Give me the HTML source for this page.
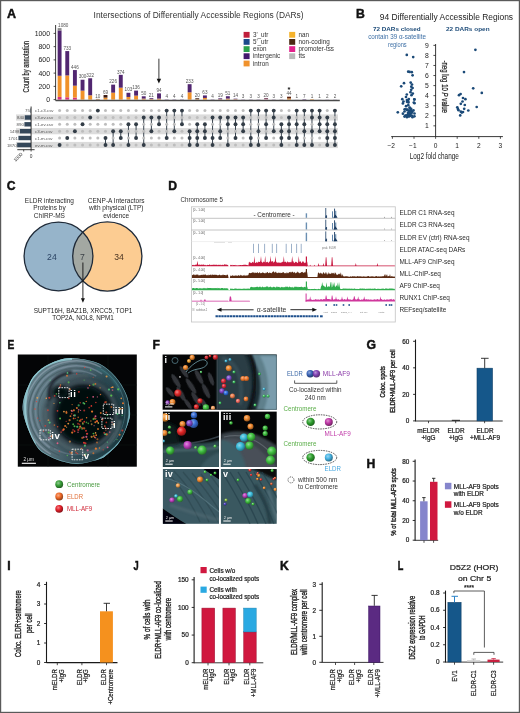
<!DOCTYPE html>
<html><head><meta charset="utf-8"><style>
html,body{margin:0;padding:0;background:#fff;}
body{width:520px;height:713px;overflow:hidden;}
svg{display:block;will-change:transform;}
</style></head><body>
<svg width="520" height="713" viewBox="0 0 520 713" font-family="Liberation Sans, sans-serif">
<defs><radialGradient id="g3aa03a" cx="0.38" cy="0.35" r="0.7"><stop offset="0" stop-color="#92ca92"/><stop offset="0.45" stop-color="#3aa03a"/><stop offset="1" stop-color="#1f581f"/></radialGradient><radialGradient id="gf06a28" cx="0.38" cy="0.35" r="0.7"><stop offset="0" stop-color="#f6ad88"/><stop offset="0.45" stop-color="#f06a28"/><stop offset="1" stop-color="#843a16"/></radialGradient><radialGradient id="ge4202a" cx="0.38" cy="0.35" r="0.7"><stop offset="0" stop-color="#f08489"/><stop offset="0.45" stop-color="#e4202a"/><stop offset="1" stop-color="#7d1117"/></radialGradient><radialGradient id="gf08a30" cx="0.38" cy="0.35" r="0.7"><stop offset="0" stop-color="#f6be8d"/><stop offset="0.45" stop-color="#f08a30"/><stop offset="1" stop-color="#844b1a"/></radialGradient><radialGradient id="gf0a030" cx="0.38" cy="0.35" r="0.7"><stop offset="0" stop-color="#f6ca8d"/><stop offset="0.45" stop-color="#f0a030"/><stop offset="1" stop-color="#84581a"/></radialGradient><radialGradient id="gd82830" cx="0.38" cy="0.35" r="0.7"><stop offset="0" stop-color="#e9888d"/><stop offset="0.45" stop-color="#d82830"/><stop offset="1" stop-color="#76161a"/></radialGradient><radialGradient id="ge02828" cx="0.38" cy="0.35" r="0.7"><stop offset="0" stop-color="#ed8888"/><stop offset="0.45" stop-color="#e02828"/><stop offset="1" stop-color="#7b1616"/></radialGradient><radialGradient id="g9040c0" cx="0.38" cy="0.35" r="0.7"><stop offset="0" stop-color="#c195dc"/><stop offset="0.45" stop-color="#9040c0"/><stop offset="1" stop-color="#4f2369"/></radialGradient><radialGradient id="g40c040" cx="0.38" cy="0.35" r="0.7"><stop offset="0" stop-color="#95dc95"/><stop offset="0.45" stop-color="#40c040"/><stop offset="1" stop-color="#236923"/></radialGradient><radialGradient id="gf0a060" cx="0.38" cy="0.35" r="0.7"><stop offset="0" stop-color="#f6caa7"/><stop offset="0.45" stop-color="#f0a060"/><stop offset="1" stop-color="#845834"/></radialGradient><radialGradient id="g50c060" cx="0.38" cy="0.35" r="0.7"><stop offset="0" stop-color="#9edca7"/><stop offset="0.45" stop-color="#50c060"/><stop offset="1" stop-color="#2c6934"/></radialGradient><radialGradient id="gb0b0b0" cx="0.38" cy="0.35" r="0.7"><stop offset="0" stop-color="#d3d3d3"/><stop offset="0.45" stop-color="#b0b0b0"/><stop offset="1" stop-color="#606060"/></radialGradient><radialGradient id="gf07a30" cx="0.38" cy="0.35" r="0.7"><stop offset="0" stop-color="#f6b58d"/><stop offset="0.45" stop-color="#f07a30"/><stop offset="1" stop-color="#84431a"/></radialGradient><radialGradient id="g8050d0" cx="0.38" cy="0.35" r="0.7"><stop offset="0" stop-color="#b99ee5"/><stop offset="0.45" stop-color="#8050d0"/><stop offset="1" stop-color="#462c72"/></radialGradient><radialGradient id="ge02838" cx="0.38" cy="0.35" r="0.7"><stop offset="0" stop-color="#ed8891"/><stop offset="0.45" stop-color="#e02838"/><stop offset="1" stop-color="#7b161e"/></radialGradient><radialGradient id="g8040c0" cx="0.38" cy="0.35" r="0.7"><stop offset="0" stop-color="#b995dc"/><stop offset="0.45" stop-color="#8040c0"/><stop offset="1" stop-color="#462369"/></radialGradient><radialGradient id="g3070e0" cx="0.38" cy="0.35" r="0.7"><stop offset="0" stop-color="#8db0ed"/><stop offset="0.45" stop-color="#3070e0"/><stop offset="1" stop-color="#1a3d7b"/></radialGradient><radialGradient id="gf08050" cx="0.38" cy="0.35" r="0.7"><stop offset="0" stop-color="#f6b99e"/><stop offset="0.45" stop-color="#f08050"/><stop offset="1" stop-color="#84462c"/></radialGradient><radialGradient id="gf06a60" cx="0.38" cy="0.35" r="0.7"><stop offset="0" stop-color="#f6ada7"/><stop offset="0.45" stop-color="#f06a60"/><stop offset="1" stop-color="#843a34"/></radialGradient><radialGradient id="g40c060" cx="0.38" cy="0.35" r="0.7"><stop offset="0" stop-color="#95dca7"/><stop offset="0.45" stop-color="#40c060"/><stop offset="1" stop-color="#236934"/></radialGradient><radialGradient id="g40b0d0" cx="0.38" cy="0.35" r="0.7"><stop offset="0" stop-color="#95d3e5"/><stop offset="0.45" stop-color="#40b0d0"/><stop offset="1" stop-color="#236072"/></radialGradient><radialGradient id="gd02828" cx="0.38" cy="0.35" r="0.7"><stop offset="0" stop-color="#e58888"/><stop offset="0.45" stop-color="#d02828"/><stop offset="1" stop-color="#721616"/></radialGradient><radialGradient id="gf0902a" cx="0.38" cy="0.35" r="0.7"><stop offset="0" stop-color="#f6c189"/><stop offset="0.45" stop-color="#f0902a"/><stop offset="1" stop-color="#844f17"/></radialGradient><radialGradient id="ge02424" cx="0.38" cy="0.35" r="0.7"><stop offset="0" stop-color="#ed8686"/><stop offset="0.45" stop-color="#e02424"/><stop offset="1" stop-color="#7b1313"/></radialGradient><radialGradient id="g3a70d8" cx="0.38" cy="0.35" r="0.7"><stop offset="0" stop-color="#92b0e9"/><stop offset="0.45" stop-color="#3a70d8"/><stop offset="1" stop-color="#1f3d76"/></radialGradient><radialGradient id="g8048c8" cx="0.38" cy="0.35" r="0.7"><stop offset="0" stop-color="#b99ae0"/><stop offset="0.45" stop-color="#8048c8"/><stop offset="1" stop-color="#46276e"/></radialGradient><radialGradient id="g50c050" cx="0.38" cy="0.35" r="0.7"><stop offset="0" stop-color="#9edc9e"/><stop offset="0.45" stop-color="#50c050"/><stop offset="1" stop-color="#2c692c"/></radialGradient><radialGradient id="gc040c0" cx="0.38" cy="0.35" r="0.7"><stop offset="0" stop-color="#dc95dc"/><stop offset="0.45" stop-color="#c040c0"/><stop offset="1" stop-color="#692369"/></radialGradient><radialGradient id="g38b8d8" cx="0.38" cy="0.35" r="0.7"><stop offset="0" stop-color="#91d7e9"/><stop offset="0.45" stop-color="#38b8d8"/><stop offset="1" stop-color="#1e6576"/></radialGradient><radialGradient id="gf0a050" cx="0.38" cy="0.35" r="0.7"><stop offset="0" stop-color="#f6ca9e"/><stop offset="0.45" stop-color="#f0a050"/><stop offset="1" stop-color="#84582c"/></radialGradient><radialGradient id="g40c8e0" cx="0.38" cy="0.35" r="0.7"><stop offset="0" stop-color="#95e0ed"/><stop offset="0.45" stop-color="#40c8e0"/><stop offset="1" stop-color="#236e7b"/></radialGradient><radialGradient id="ge03030" cx="0.38" cy="0.35" r="0.7"><stop offset="0" stop-color="#ed8d8d"/><stop offset="0.45" stop-color="#e03030"/><stop offset="1" stop-color="#7b1a1a"/></radialGradient><radialGradient id="ge05a30" cx="0.38" cy="0.35" r="0.7"><stop offset="0" stop-color="#eda48d"/><stop offset="0.45" stop-color="#e05a30"/><stop offset="1" stop-color="#7b311a"/></radialGradient><radialGradient id="g40c0e0" cx="0.38" cy="0.35" r="0.7"><stop offset="0" stop-color="#95dced"/><stop offset="0.45" stop-color="#40c0e0"/><stop offset="1" stop-color="#23697b"/></radialGradient><radialGradient id="g90c040" cx="0.38" cy="0.35" r="0.7"><stop offset="0" stop-color="#c1dc95"/><stop offset="0.45" stop-color="#90c040"/><stop offset="1" stop-color="#4f6923"/></radialGradient><radialGradient id="g5040c0" cx="0.38" cy="0.35" r="0.7"><stop offset="0" stop-color="#9e95dc"/><stop offset="0.45" stop-color="#5040c0"/><stop offset="1" stop-color="#2c2369"/></radialGradient><radialGradient id="g3a64b8" cx="0.38" cy="0.35" r="0.7"><stop offset="0" stop-color="#92a9d7"/><stop offset="0.45" stop-color="#3a64b8"/><stop offset="1" stop-color="#1f3765"/></radialGradient><radialGradient id="g7a34b0" cx="0.38" cy="0.35" r="0.7"><stop offset="0" stop-color="#b58fd3"/><stop offset="0.45" stop-color="#7a34b0"/><stop offset="1" stop-color="#431c60"/></radialGradient><radialGradient id="g2fa02f" cx="0.38" cy="0.35" r="0.7"><stop offset="0" stop-color="#8cca8c"/><stop offset="0.45" stop-color="#2fa02f"/><stop offset="1" stop-color="#195819"/></radialGradient><radialGradient id="gc03aa8" cx="0.38" cy="0.35" r="0.7"><stop offset="0" stop-color="#dc92cf"/><stop offset="0.45" stop-color="#c03aa8"/><stop offset="1" stop-color="#691f5c"/></radialGradient><radialGradient id="g48b4e4" cx="0.38" cy="0.35" r="0.7"><stop offset="0" stop-color="#9ad5f0"/><stop offset="0.45" stop-color="#48b4e4"/><stop offset="1" stop-color="#27637d"/></radialGradient></defs>
<rect x="0" y="0" width="520" height="713" fill="#fff"/>
<text x="6.90" y="17.80" font-size="12.5" fill="#111" stroke="#111" stroke-width="0.45" font-weight="bold">A</text>
<text x="93.60" y="17.90" font-size="8.3" fill="#333" textLength="210.00" lengthAdjust="spacingAndGlyphs">Intersections of Differentially Accessible Regions (DARs)</text>
<line x1="55.60" y1="25.00" x2="55.60" y2="100.50" stroke="#222" stroke-width="0.9"/>
<line x1="53.60" y1="99.60" x2="55.60" y2="99.60" stroke="#222" stroke-width="0.8"/>
<text x="50.00" y="102.00" font-size="6.9" fill="#222" text-anchor="end">0</text>
<line x1="53.60" y1="86.36" x2="55.60" y2="86.36" stroke="#222" stroke-width="0.8"/>
<text x="50.00" y="88.76" font-size="6.9" fill="#222" text-anchor="end">200</text>
<line x1="53.60" y1="73.12" x2="55.60" y2="73.12" stroke="#222" stroke-width="0.8"/>
<text x="50.00" y="75.52" font-size="6.9" fill="#222" text-anchor="end">400</text>
<line x1="53.60" y1="59.88" x2="55.60" y2="59.88" stroke="#222" stroke-width="0.8"/>
<text x="50.00" y="62.28" font-size="6.9" fill="#222" text-anchor="end">600</text>
<line x1="53.60" y1="46.64" x2="55.60" y2="46.64" stroke="#222" stroke-width="0.8"/>
<text x="50.00" y="49.04" font-size="6.9" fill="#222" text-anchor="end">800</text>
<line x1="53.60" y1="33.40" x2="55.60" y2="33.40" stroke="#222" stroke-width="0.8"/>
<text x="50.00" y="35.80" font-size="6.9" fill="#222" text-anchor="end">1000</text>
<text x="29.00" y="66.70" font-size="8.6" fill="#222" stroke="#222" stroke-width="0.2" text-anchor="middle" textLength="51.50" lengthAdjust="spacingAndGlyphs" transform="rotate(-90 29.00 66.70)">Count by annotation</text>
<rect x="57.65" y="96.95" width="3.90" height="2.65" fill="#d8307a"/>
<rect x="57.65" y="75.77" width="3.90" height="21.18" fill="#f0922a"/>
<rect x="57.65" y="30.42" width="3.90" height="45.35" fill="#512670"/>
<rect x="57.65" y="28.10" width="3.90" height="2.32" fill="#8c8c8c"/>
<text x="63.20" y="26.80" font-size="4.6" fill="#555" text-anchor="middle">1080</text>
<rect x="65.30" y="97.28" width="3.90" height="2.32" fill="#d8307a"/>
<rect x="65.30" y="75.44" width="3.90" height="21.85" fill="#f0922a"/>
<rect x="65.30" y="51.08" width="3.90" height="24.36" fill="#512670"/>
<text x="67.25" y="49.78" font-size="4.6" fill="#555" text-anchor="middle">733</text>
<rect x="72.95" y="97.61" width="3.90" height="1.99" fill="#d8307a"/>
<rect x="72.95" y="85.70" width="3.90" height="11.92" fill="#f0922a"/>
<rect x="72.95" y="70.07" width="3.90" height="15.62" fill="#512670"/>
<text x="74.90" y="68.77" font-size="4.6" fill="#555" text-anchor="middle">446</text>
<rect x="80.59" y="90.66" width="3.90" height="8.94" fill="#f0922a"/>
<rect x="80.59" y="79.74" width="3.90" height="10.92" fill="#512670"/>
<text x="82.54" y="78.44" font-size="4.6" fill="#555" text-anchor="middle">300</text>
<rect x="88.24" y="95.30" width="3.90" height="4.30" fill="#f0922a"/>
<rect x="88.24" y="78.28" width="3.90" height="17.01" fill="#512670"/>
<text x="90.19" y="76.98" font-size="4.6" fill="#555" text-anchor="middle">322</text>
<rect x="95.89" y="99.20" width="3.90" height="0.40" fill="#f0922a"/>
<rect x="95.89" y="98.94" width="3.90" height="0.26" fill="#3a1a12"/>
<text x="97.84" y="97.64" font-size="4.6" fill="#555" text-anchor="middle">10</text>
<rect x="103.54" y="97.61" width="3.90" height="1.99" fill="#f0922a"/>
<rect x="103.54" y="95.03" width="3.90" height="2.58" fill="#3a1a12"/>
<text x="105.49" y="93.73" font-size="4.6" fill="#555" text-anchor="middle">69</text>
<rect x="111.19" y="92.65" width="3.90" height="6.95" fill="#f0922a"/>
<rect x="111.19" y="84.64" width="3.90" height="8.01" fill="#512670"/>
<text x="113.14" y="83.34" font-size="4.6" fill="#555" text-anchor="middle">226</text>
<rect x="118.83" y="87.68" width="3.90" height="11.92" fill="#f0922a"/>
<rect x="118.83" y="74.84" width="3.90" height="12.84" fill="#512670"/>
<text x="120.78" y="73.54" font-size="4.6" fill="#555" text-anchor="middle">374</text>
<rect x="126.48" y="96.95" width="3.90" height="2.65" fill="#f0922a"/>
<rect x="126.48" y="92.78" width="3.90" height="4.17" fill="#512670"/>
<text x="128.43" y="91.48" font-size="4.6" fill="#555" text-anchor="middle">103</text>
<rect x="134.13" y="95.63" width="3.90" height="3.97" fill="#f0922a"/>
<rect x="134.13" y="90.60" width="3.90" height="5.03" fill="#512670"/>
<text x="136.08" y="89.30" font-size="4.6" fill="#555" text-anchor="middle">136</text>
<rect x="141.78" y="98.61" width="3.90" height="0.99" fill="#f0922a"/>
<rect x="141.78" y="96.29" width="3.90" height="2.32" fill="#512670"/>
<text x="143.73" y="94.99" font-size="4.6" fill="#555" text-anchor="middle">50</text>
<rect x="149.43" y="99.07" width="3.90" height="0.53" fill="#f0922a"/>
<rect x="149.43" y="98.21" width="3.90" height="0.86" fill="#512670"/>
<text x="151.38" y="96.91" font-size="4.6" fill="#555" text-anchor="middle">21</text>
<rect x="157.07" y="98.61" width="3.90" height="0.99" fill="#f0922a"/>
<rect x="157.07" y="93.38" width="3.90" height="5.23" fill="#512670"/>
<text x="159.02" y="92.08" font-size="4.6" fill="#555" text-anchor="middle">94</text>
<rect x="164.72" y="99.34" width="3.90" height="0.26" fill="#512670"/>
<text x="166.67" y="98.04" font-size="4.6" fill="#555" text-anchor="middle">4</text>
<rect x="172.37" y="99.34" width="3.90" height="0.26" fill="#512670"/>
<text x="174.32" y="98.04" font-size="4.6" fill="#555" text-anchor="middle">4</text>
<rect x="180.02" y="99.34" width="3.90" height="0.26" fill="#512670"/>
<text x="181.97" y="98.04" font-size="4.6" fill="#555" text-anchor="middle">4</text>
<rect x="187.67" y="92.32" width="3.90" height="7.28" fill="#f0922a"/>
<rect x="187.67" y="84.18" width="3.90" height="8.14" fill="#512670"/>
<text x="189.62" y="82.88" font-size="4.6" fill="#555" text-anchor="middle">233</text>
<rect x="195.31" y="99.20" width="3.90" height="0.40" fill="#f0922a"/>
<rect x="195.31" y="98.28" width="3.90" height="0.93" fill="#3a1a12"/>
<text x="197.26" y="96.98" font-size="4.6" fill="#555" text-anchor="middle">20</text>
<rect x="202.96" y="97.94" width="3.90" height="1.65" fill="#f0922a"/>
<rect x="202.96" y="95.43" width="3.90" height="2.52" fill="#512670"/>
<text x="204.91" y="94.13" font-size="4.6" fill="#555" text-anchor="middle">63</text>
<rect x="210.61" y="99.34" width="3.90" height="0.26" fill="#512670"/>
<text x="212.56" y="98.04" font-size="4.6" fill="#555" text-anchor="middle">4</text>
<rect x="218.26" y="99.27" width="3.90" height="0.33" fill="#f0922a"/>
<rect x="218.26" y="98.34" width="3.90" height="0.93" fill="#512670"/>
<text x="220.21" y="97.04" font-size="4.6" fill="#555" text-anchor="middle">19</text>
<rect x="225.91" y="98.61" width="3.90" height="0.99" fill="#f0922a"/>
<rect x="225.91" y="96.22" width="3.90" height="2.38" fill="#512670"/>
<text x="227.86" y="94.92" font-size="4.6" fill="#555" text-anchor="middle">51</text>
<rect x="233.55" y="99.20" width="3.90" height="0.40" fill="#f0922a"/>
<rect x="233.55" y="98.67" width="3.90" height="0.53" fill="#512670"/>
<text x="235.50" y="97.37" font-size="4.6" fill="#555" text-anchor="middle">14</text>
<rect x="241.20" y="99.40" width="3.90" height="0.20" fill="#512670"/>
<text x="243.15" y="98.10" font-size="4.6" fill="#555" text-anchor="middle">3</text>
<rect x="248.85" y="99.40" width="3.90" height="0.20" fill="#512670"/>
<text x="250.80" y="98.10" font-size="4.6" fill="#555" text-anchor="middle">3</text>
<rect x="256.50" y="99.40" width="3.90" height="0.20" fill="#512670"/>
<text x="258.45" y="98.10" font-size="4.6" fill="#555" text-anchor="middle">3</text>
<rect x="264.15" y="99.14" width="3.90" height="0.46" fill="#f0b0c0"/>
<rect x="264.15" y="98.28" width="3.90" height="0.86" fill="#5a1a3a"/>
<text x="266.10" y="96.98" font-size="4.6" fill="#555" text-anchor="middle">20</text>
<rect x="271.79" y="99.40" width="3.90" height="0.20" fill="#512670"/>
<text x="273.74" y="98.10" font-size="4.6" fill="#555" text-anchor="middle">3</text>
<rect x="279.44" y="99.40" width="3.90" height="0.20" fill="#512670"/>
<text x="281.39" y="98.10" font-size="4.6" fill="#555" text-anchor="middle">3</text>
<rect x="287.09" y="98.41" width="3.90" height="1.19" fill="#f0922a"/>
<rect x="287.09" y="96.69" width="3.90" height="1.72" fill="#5a2010"/>
<text x="289.04" y="95.39" font-size="4.6" fill="#555" text-anchor="middle">44</text>
<rect x="294.74" y="99.53" width="3.90" height="0.07" fill="#512670"/>
<text x="296.69" y="98.23" font-size="4.6" fill="#555" text-anchor="middle">1</text>
<rect x="302.39" y="99.14" width="3.90" height="0.46" fill="#512670"/>
<text x="304.34" y="97.84" font-size="4.6" fill="#555" text-anchor="middle">7</text>
<rect x="310.03" y="99.14" width="3.90" height="0.46" fill="#f0922a"/>
<text x="311.98" y="98.23" font-size="4.6" fill="#555" text-anchor="middle">1</text>
<rect x="317.68" y="99.53" width="3.90" height="0.07" fill="#512670"/>
<text x="319.63" y="98.23" font-size="4.6" fill="#555" text-anchor="middle">1</text>
<rect x="325.33" y="99.47" width="3.90" height="0.13" fill="#512670"/>
<text x="327.28" y="98.17" font-size="4.6" fill="#555" text-anchor="middle">2</text>
<rect x="332.98" y="99.47" width="3.90" height="0.13" fill="#512670"/>
<text x="334.93" y="98.17" font-size="4.6" fill="#555" text-anchor="middle">2</text>
<text x="289.04" y="91.69" font-size="7.5" fill="#111" text-anchor="middle" font-weight="bold">*</text>
<line x1="55.60" y1="100.50" x2="339.80" y2="100.50" stroke="#4a4a4a" stroke-width="1.6"/>
<line x1="158.90" y1="58.70" x2="158.90" y2="79.50" stroke="#222" stroke-width="0.9"/>
<polygon points="156.7,78.8 161.1,78.8 158.9,83.6" fill="#111"/>
<rect x="243.60" y="31.90" width="6.00" height="5.80" fill="#c01f3c"/>
<text x="252.90" y="37.00" font-size="6.3" fill="#333">3'_utr</text>
<rect x="243.60" y="39.00" width="6.00" height="5.80" fill="#1b4a8c"/>
<text x="252.90" y="44.10" font-size="6.3" fill="#333">5'_utr</text>
<rect x="243.60" y="46.20" width="6.00" height="5.80" fill="#2ba24c"/>
<text x="252.90" y="51.30" font-size="6.3" fill="#333">exon</text>
<rect x="243.60" y="53.30" width="6.00" height="5.80" fill="#42196c"/>
<text x="252.90" y="58.40" font-size="6.3" fill="#333">intergenic</text>
<rect x="243.60" y="60.60" width="6.00" height="5.80" fill="#f0922c"/>
<text x="252.90" y="65.70" font-size="6.3" fill="#333">intron</text>
<rect x="289.20" y="31.90" width="6.00" height="5.80" fill="#f6b32c"/>
<text x="298.60" y="37.00" font-size="6.3" fill="#333">nan</text>
<rect x="289.20" y="39.00" width="6.00" height="5.80" fill="#4a2812"/>
<text x="298.60" y="44.10" font-size="6.3" fill="#333">non-coding</text>
<rect x="289.20" y="46.20" width="6.00" height="5.80" fill="#e2228c"/>
<text x="298.60" y="51.30" font-size="6.3" fill="#333">promoter-tss</text>
<rect x="289.20" y="53.30" width="6.00" height="5.80" fill="#b9b9b9"/>
<text x="298.60" y="58.40" font-size="6.3" fill="#333">tts</text>
<rect x="16.00" y="114.40" width="322.00" height="6.20" fill="#dcdcdc"/>
<rect x="16.00" y="128.10" width="322.00" height="6.20" fill="#dcdcdc"/>
<rect x="16.00" y="141.90" width="322.00" height="6.20" fill="#dcdcdc"/>
<rect x="30.45" y="108.40" width="0.56" height="4.40" fill="#34475a"/>
<text x="29.95" y="112.20" font-size="4.4" fill="#555" text-anchor="end">75</text>
<text x="35.00" y="112.20" font-size="4.4" fill="#555">c1-c3.csv</text>
<rect x="24.78" y="115.30" width="6.22" height="4.40" fill="#34475a"/>
<text x="24.28" y="119.10" font-size="4.4" fill="#555" text-anchor="end">840</text>
<text x="35.00" y="119.10" font-size="4.4" fill="#555">c3-ev.csv</text>
<rect x="24.41" y="122.10" width="6.59" height="4.40" fill="#34475a"/>
<text x="23.91" y="125.90" font-size="4.4" fill="#555" text-anchor="end">890</text>
<text x="35.00" y="125.90" font-size="4.4" fill="#555">c1-ev.csv</text>
<rect x="19.91" y="129.00" width="11.09" height="4.40" fill="#34475a"/>
<text x="19.41" y="132.80" font-size="4.4" fill="#555" text-anchor="end">1498</text>
<text x="35.00" y="132.80" font-size="4.4" fill="#555">c3-m.csv</text>
<rect x="18.41" y="135.80" width="12.59" height="4.40" fill="#34475a"/>
<text x="17.91" y="139.60" font-size="4.4" fill="#555" text-anchor="end">1701</text>
<text x="35.00" y="139.60" font-size="4.4" fill="#555">c1-m.csv</text>
<rect x="17.16" y="142.80" width="13.84" height="4.40" fill="#34475a"/>
<text x="16.66" y="146.60" font-size="4.4" fill="#555" text-anchor="end">1870</text>
<text x="35.00" y="146.60" font-size="4.4" fill="#555">ev-m.csv</text>
<line x1="31.10" y1="106.50" x2="31.10" y2="149.70" stroke="#222" stroke-width="0.9"/>
<line x1="17.30" y1="149.70" x2="34.60" y2="149.70" stroke="#222" stroke-width="0.9"/>
<line x1="23.70" y1="149.70" x2="23.70" y2="151.50" stroke="#222" stroke-width="0.8"/>
<line x1="31.10" y1="149.70" x2="31.10" y2="151.50" stroke="#222" stroke-width="0.8"/>
<text x="23.00" y="154.50" font-size="4.8" fill="#333" text-anchor="end" transform="rotate(-45 23.00 154.50)">1000</text>
<text x="31.10" y="157.50" font-size="4.8" fill="#333" text-anchor="middle">0</text>
<circle cx="59.60" cy="110.60" r="1.50" fill="#bdbdbd"/>
<circle cx="59.60" cy="117.50" r="1.50" fill="#bdbdbd"/>
<circle cx="59.60" cy="124.30" r="1.50" fill="#bdbdbd"/>
<circle cx="59.60" cy="131.20" r="1.50" fill="#bdbdbd"/>
<circle cx="59.60" cy="138.00" r="1.50" fill="#bdbdbd"/>
<circle cx="59.60" cy="145.00" r="1.95" fill="#333d47"/>
<circle cx="67.25" cy="110.60" r="1.50" fill="#bdbdbd"/>
<circle cx="67.25" cy="117.50" r="1.50" fill="#bdbdbd"/>
<circle cx="67.25" cy="124.30" r="1.50" fill="#bdbdbd"/>
<circle cx="67.25" cy="131.20" r="1.50" fill="#bdbdbd"/>
<circle cx="67.25" cy="138.00" r="1.95" fill="#333d47"/>
<circle cx="67.25" cy="145.00" r="1.50" fill="#bdbdbd"/>
<circle cx="74.90" cy="110.60" r="1.50" fill="#bdbdbd"/>
<circle cx="74.90" cy="117.50" r="1.50" fill="#bdbdbd"/>
<circle cx="74.90" cy="124.30" r="1.50" fill="#bdbdbd"/>
<circle cx="74.90" cy="131.20" r="1.95" fill="#333d47"/>
<circle cx="74.90" cy="138.00" r="1.50" fill="#bdbdbd"/>
<circle cx="74.90" cy="145.00" r="1.50" fill="#bdbdbd"/>
<circle cx="82.54" cy="110.60" r="1.50" fill="#bdbdbd"/>
<circle cx="82.54" cy="117.50" r="1.50" fill="#bdbdbd"/>
<circle cx="82.54" cy="124.30" r="1.95" fill="#333d47"/>
<circle cx="82.54" cy="131.20" r="1.50" fill="#bdbdbd"/>
<circle cx="82.54" cy="138.00" r="1.50" fill="#bdbdbd"/>
<circle cx="82.54" cy="145.00" r="1.50" fill="#bdbdbd"/>
<circle cx="90.19" cy="110.60" r="1.50" fill="#bdbdbd"/>
<circle cx="90.19" cy="117.50" r="1.95" fill="#333d47"/>
<circle cx="90.19" cy="124.30" r="1.50" fill="#bdbdbd"/>
<circle cx="90.19" cy="131.20" r="1.50" fill="#bdbdbd"/>
<circle cx="90.19" cy="138.00" r="1.50" fill="#bdbdbd"/>
<circle cx="90.19" cy="145.00" r="1.50" fill="#bdbdbd"/>
<circle cx="97.84" cy="110.60" r="1.95" fill="#333d47"/>
<circle cx="97.84" cy="117.50" r="1.50" fill="#bdbdbd"/>
<circle cx="97.84" cy="124.30" r="1.50" fill="#bdbdbd"/>
<circle cx="97.84" cy="131.20" r="1.50" fill="#bdbdbd"/>
<circle cx="97.84" cy="138.00" r="1.50" fill="#bdbdbd"/>
<circle cx="97.84" cy="145.00" r="1.50" fill="#bdbdbd"/>
<line x1="105.49" y1="138.00" x2="105.49" y2="145.00" stroke="#3a4550" stroke-width="1.0"/>
<circle cx="105.49" cy="110.60" r="1.50" fill="#bdbdbd"/>
<circle cx="105.49" cy="117.50" r="1.50" fill="#bdbdbd"/>
<circle cx="105.49" cy="124.30" r="1.50" fill="#bdbdbd"/>
<circle cx="105.49" cy="131.20" r="1.50" fill="#bdbdbd"/>
<circle cx="105.49" cy="138.00" r="1.95" fill="#333d47"/>
<circle cx="105.49" cy="145.00" r="1.95" fill="#333d47"/>
<line x1="113.14" y1="131.20" x2="113.14" y2="145.00" stroke="#3a4550" stroke-width="1.0"/>
<circle cx="113.14" cy="110.60" r="1.50" fill="#bdbdbd"/>
<circle cx="113.14" cy="117.50" r="1.50" fill="#bdbdbd"/>
<circle cx="113.14" cy="124.30" r="1.50" fill="#bdbdbd"/>
<circle cx="113.14" cy="131.20" r="1.95" fill="#333d47"/>
<circle cx="113.14" cy="138.00" r="1.50" fill="#bdbdbd"/>
<circle cx="113.14" cy="145.00" r="1.95" fill="#333d47"/>
<line x1="120.78" y1="131.20" x2="120.78" y2="138.00" stroke="#3a4550" stroke-width="1.0"/>
<circle cx="120.78" cy="110.60" r="1.50" fill="#bdbdbd"/>
<circle cx="120.78" cy="117.50" r="1.50" fill="#bdbdbd"/>
<circle cx="120.78" cy="124.30" r="1.50" fill="#bdbdbd"/>
<circle cx="120.78" cy="131.20" r="1.95" fill="#333d47"/>
<circle cx="120.78" cy="138.00" r="1.95" fill="#333d47"/>
<circle cx="120.78" cy="145.00" r="1.50" fill="#bdbdbd"/>
<line x1="128.43" y1="124.30" x2="128.43" y2="145.00" stroke="#3a4550" stroke-width="1.0"/>
<circle cx="128.43" cy="110.60" r="1.50" fill="#bdbdbd"/>
<circle cx="128.43" cy="117.50" r="1.50" fill="#bdbdbd"/>
<circle cx="128.43" cy="124.30" r="1.95" fill="#333d47"/>
<circle cx="128.43" cy="131.20" r="1.50" fill="#bdbdbd"/>
<circle cx="128.43" cy="138.00" r="1.50" fill="#bdbdbd"/>
<circle cx="128.43" cy="145.00" r="1.95" fill="#333d47"/>
<line x1="136.08" y1="124.30" x2="136.08" y2="138.00" stroke="#3a4550" stroke-width="1.0"/>
<circle cx="136.08" cy="110.60" r="1.50" fill="#bdbdbd"/>
<circle cx="136.08" cy="117.50" r="1.50" fill="#bdbdbd"/>
<circle cx="136.08" cy="124.30" r="1.95" fill="#333d47"/>
<circle cx="136.08" cy="131.20" r="1.50" fill="#bdbdbd"/>
<circle cx="136.08" cy="138.00" r="1.95" fill="#333d47"/>
<circle cx="136.08" cy="145.00" r="1.50" fill="#bdbdbd"/>
<line x1="143.73" y1="117.50" x2="143.73" y2="145.00" stroke="#3a4550" stroke-width="1.0"/>
<circle cx="143.73" cy="110.60" r="1.50" fill="#bdbdbd"/>
<circle cx="143.73" cy="117.50" r="1.95" fill="#333d47"/>
<circle cx="143.73" cy="124.30" r="1.50" fill="#bdbdbd"/>
<circle cx="143.73" cy="131.20" r="1.50" fill="#bdbdbd"/>
<circle cx="143.73" cy="138.00" r="1.50" fill="#bdbdbd"/>
<circle cx="143.73" cy="145.00" r="1.95" fill="#333d47"/>
<line x1="151.38" y1="117.50" x2="151.38" y2="131.20" stroke="#3a4550" stroke-width="1.0"/>
<circle cx="151.38" cy="110.60" r="1.50" fill="#bdbdbd"/>
<circle cx="151.38" cy="117.50" r="1.95" fill="#333d47"/>
<circle cx="151.38" cy="124.30" r="1.50" fill="#bdbdbd"/>
<circle cx="151.38" cy="131.20" r="1.95" fill="#333d47"/>
<circle cx="151.38" cy="138.00" r="1.50" fill="#bdbdbd"/>
<circle cx="151.38" cy="145.00" r="1.50" fill="#bdbdbd"/>
<line x1="159.02" y1="117.50" x2="159.02" y2="124.30" stroke="#3a4550" stroke-width="1.0"/>
<circle cx="159.02" cy="110.60" r="1.50" fill="#bdbdbd"/>
<circle cx="159.02" cy="117.50" r="1.95" fill="#333d47"/>
<circle cx="159.02" cy="124.30" r="1.95" fill="#333d47"/>
<circle cx="159.02" cy="131.20" r="1.50" fill="#bdbdbd"/>
<circle cx="159.02" cy="138.00" r="1.50" fill="#bdbdbd"/>
<circle cx="159.02" cy="145.00" r="1.50" fill="#bdbdbd"/>
<line x1="166.67" y1="110.60" x2="166.67" y2="138.00" stroke="#3a4550" stroke-width="1.0"/>
<circle cx="166.67" cy="110.60" r="1.95" fill="#333d47"/>
<circle cx="166.67" cy="117.50" r="1.50" fill="#bdbdbd"/>
<circle cx="166.67" cy="124.30" r="1.50" fill="#bdbdbd"/>
<circle cx="166.67" cy="131.20" r="1.50" fill="#bdbdbd"/>
<circle cx="166.67" cy="138.00" r="1.95" fill="#333d47"/>
<circle cx="166.67" cy="145.00" r="1.50" fill="#bdbdbd"/>
<line x1="174.32" y1="110.60" x2="174.32" y2="131.20" stroke="#3a4550" stroke-width="1.0"/>
<circle cx="174.32" cy="110.60" r="1.95" fill="#333d47"/>
<circle cx="174.32" cy="117.50" r="1.50" fill="#bdbdbd"/>
<circle cx="174.32" cy="124.30" r="1.50" fill="#bdbdbd"/>
<circle cx="174.32" cy="131.20" r="1.95" fill="#333d47"/>
<circle cx="174.32" cy="138.00" r="1.50" fill="#bdbdbd"/>
<circle cx="174.32" cy="145.00" r="1.50" fill="#bdbdbd"/>
<line x1="181.97" y1="110.60" x2="181.97" y2="124.30" stroke="#3a4550" stroke-width="1.0"/>
<circle cx="181.97" cy="110.60" r="1.95" fill="#333d47"/>
<circle cx="181.97" cy="117.50" r="1.50" fill="#bdbdbd"/>
<circle cx="181.97" cy="124.30" r="1.95" fill="#333d47"/>
<circle cx="181.97" cy="131.20" r="1.50" fill="#bdbdbd"/>
<circle cx="181.97" cy="138.00" r="1.50" fill="#bdbdbd"/>
<circle cx="181.97" cy="145.00" r="1.50" fill="#bdbdbd"/>
<line x1="189.62" y1="131.20" x2="189.62" y2="145.00" stroke="#3a4550" stroke-width="1.0"/>
<circle cx="189.62" cy="110.60" r="1.50" fill="#bdbdbd"/>
<circle cx="189.62" cy="117.50" r="1.50" fill="#bdbdbd"/>
<circle cx="189.62" cy="124.30" r="1.50" fill="#bdbdbd"/>
<circle cx="189.62" cy="131.20" r="1.95" fill="#333d47"/>
<circle cx="189.62" cy="138.00" r="1.95" fill="#333d47"/>
<circle cx="189.62" cy="145.00" r="1.95" fill="#333d47"/>
<line x1="197.26" y1="124.30" x2="197.26" y2="145.00" stroke="#3a4550" stroke-width="1.0"/>
<circle cx="197.26" cy="110.60" r="1.50" fill="#bdbdbd"/>
<circle cx="197.26" cy="117.50" r="1.50" fill="#bdbdbd"/>
<circle cx="197.26" cy="124.30" r="1.95" fill="#333d47"/>
<circle cx="197.26" cy="131.20" r="1.95" fill="#333d47"/>
<circle cx="197.26" cy="138.00" r="1.95" fill="#333d47"/>
<circle cx="197.26" cy="145.00" r="1.95" fill="#333d47"/>
<line x1="204.91" y1="124.30" x2="204.91" y2="138.00" stroke="#3a4550" stroke-width="1.0"/>
<circle cx="204.91" cy="110.60" r="1.50" fill="#bdbdbd"/>
<circle cx="204.91" cy="117.50" r="1.50" fill="#bdbdbd"/>
<circle cx="204.91" cy="124.30" r="1.95" fill="#333d47"/>
<circle cx="204.91" cy="131.20" r="1.95" fill="#333d47"/>
<circle cx="204.91" cy="138.00" r="1.95" fill="#333d47"/>
<circle cx="204.91" cy="145.00" r="1.50" fill="#bdbdbd"/>
<line x1="212.56" y1="117.50" x2="212.56" y2="145.00" stroke="#3a4550" stroke-width="1.0"/>
<circle cx="212.56" cy="110.60" r="1.50" fill="#bdbdbd"/>
<circle cx="212.56" cy="117.50" r="1.95" fill="#333d47"/>
<circle cx="212.56" cy="124.30" r="1.50" fill="#bdbdbd"/>
<circle cx="212.56" cy="131.20" r="1.50" fill="#bdbdbd"/>
<circle cx="212.56" cy="138.00" r="1.95" fill="#333d47"/>
<circle cx="212.56" cy="145.00" r="1.95" fill="#333d47"/>
<line x1="220.21" y1="117.50" x2="220.21" y2="138.00" stroke="#3a4550" stroke-width="1.0"/>
<circle cx="220.21" cy="110.60" r="1.50" fill="#bdbdbd"/>
<circle cx="220.21" cy="117.50" r="1.95" fill="#333d47"/>
<circle cx="220.21" cy="124.30" r="1.50" fill="#bdbdbd"/>
<circle cx="220.21" cy="131.20" r="1.95" fill="#333d47"/>
<circle cx="220.21" cy="138.00" r="1.95" fill="#333d47"/>
<circle cx="220.21" cy="145.00" r="1.50" fill="#bdbdbd"/>
<line x1="227.86" y1="117.50" x2="227.86" y2="145.00" stroke="#3a4550" stroke-width="1.0"/>
<circle cx="227.86" cy="110.60" r="1.50" fill="#bdbdbd"/>
<circle cx="227.86" cy="117.50" r="1.95" fill="#333d47"/>
<circle cx="227.86" cy="124.30" r="1.95" fill="#333d47"/>
<circle cx="227.86" cy="131.20" r="1.50" fill="#bdbdbd"/>
<circle cx="227.86" cy="138.00" r="1.50" fill="#bdbdbd"/>
<circle cx="227.86" cy="145.00" r="1.95" fill="#333d47"/>
<line x1="235.50" y1="117.50" x2="235.50" y2="138.00" stroke="#3a4550" stroke-width="1.0"/>
<circle cx="235.50" cy="110.60" r="1.50" fill="#bdbdbd"/>
<circle cx="235.50" cy="117.50" r="1.95" fill="#333d47"/>
<circle cx="235.50" cy="124.30" r="1.95" fill="#333d47"/>
<circle cx="235.50" cy="131.20" r="1.50" fill="#bdbdbd"/>
<circle cx="235.50" cy="138.00" r="1.95" fill="#333d47"/>
<circle cx="235.50" cy="145.00" r="1.50" fill="#bdbdbd"/>
<line x1="243.15" y1="117.50" x2="243.15" y2="131.20" stroke="#3a4550" stroke-width="1.0"/>
<circle cx="243.15" cy="110.60" r="1.50" fill="#bdbdbd"/>
<circle cx="243.15" cy="117.50" r="1.95" fill="#333d47"/>
<circle cx="243.15" cy="124.30" r="1.95" fill="#333d47"/>
<circle cx="243.15" cy="131.20" r="1.95" fill="#333d47"/>
<circle cx="243.15" cy="138.00" r="1.50" fill="#bdbdbd"/>
<circle cx="243.15" cy="145.00" r="1.50" fill="#bdbdbd"/>
<line x1="250.80" y1="110.60" x2="250.80" y2="145.00" stroke="#3a4550" stroke-width="1.0"/>
<circle cx="250.80" cy="110.60" r="1.95" fill="#333d47"/>
<circle cx="250.80" cy="117.50" r="1.50" fill="#bdbdbd"/>
<circle cx="250.80" cy="124.30" r="1.50" fill="#bdbdbd"/>
<circle cx="250.80" cy="131.20" r="1.50" fill="#bdbdbd"/>
<circle cx="250.80" cy="138.00" r="1.95" fill="#333d47"/>
<circle cx="250.80" cy="145.00" r="1.95" fill="#333d47"/>
<line x1="258.45" y1="110.60" x2="258.45" y2="145.00" stroke="#3a4550" stroke-width="1.0"/>
<circle cx="258.45" cy="110.60" r="1.95" fill="#333d47"/>
<circle cx="258.45" cy="117.50" r="1.50" fill="#bdbdbd"/>
<circle cx="258.45" cy="124.30" r="1.50" fill="#bdbdbd"/>
<circle cx="258.45" cy="131.20" r="1.95" fill="#333d47"/>
<circle cx="258.45" cy="138.00" r="1.50" fill="#bdbdbd"/>
<circle cx="258.45" cy="145.00" r="1.95" fill="#333d47"/>
<line x1="266.10" y1="110.60" x2="266.10" y2="138.00" stroke="#3a4550" stroke-width="1.0"/>
<circle cx="266.10" cy="110.60" r="1.95" fill="#333d47"/>
<circle cx="266.10" cy="117.50" r="1.50" fill="#bdbdbd"/>
<circle cx="266.10" cy="124.30" r="1.95" fill="#333d47"/>
<circle cx="266.10" cy="131.20" r="1.50" fill="#bdbdbd"/>
<circle cx="266.10" cy="138.00" r="1.95" fill="#333d47"/>
<circle cx="266.10" cy="145.00" r="1.50" fill="#bdbdbd"/>
<line x1="273.74" y1="110.60" x2="273.74" y2="131.20" stroke="#3a4550" stroke-width="1.0"/>
<circle cx="273.74" cy="110.60" r="1.95" fill="#333d47"/>
<circle cx="273.74" cy="117.50" r="1.95" fill="#333d47"/>
<circle cx="273.74" cy="124.30" r="1.50" fill="#bdbdbd"/>
<circle cx="273.74" cy="131.20" r="1.95" fill="#333d47"/>
<circle cx="273.74" cy="138.00" r="1.50" fill="#bdbdbd"/>
<circle cx="273.74" cy="145.00" r="1.50" fill="#bdbdbd"/>
<line x1="281.39" y1="124.30" x2="281.39" y2="145.00" stroke="#3a4550" stroke-width="1.0"/>
<circle cx="281.39" cy="110.60" r="1.50" fill="#bdbdbd"/>
<circle cx="281.39" cy="117.50" r="1.50" fill="#bdbdbd"/>
<circle cx="281.39" cy="124.30" r="1.95" fill="#333d47"/>
<circle cx="281.39" cy="131.20" r="1.95" fill="#333d47"/>
<circle cx="281.39" cy="138.00" r="1.95" fill="#333d47"/>
<circle cx="281.39" cy="145.00" r="1.95" fill="#333d47"/>
<line x1="289.04" y1="117.50" x2="289.04" y2="138.00" stroke="#3a4550" stroke-width="1.0"/>
<circle cx="289.04" cy="110.60" r="1.50" fill="#bdbdbd"/>
<circle cx="289.04" cy="117.50" r="1.95" fill="#333d47"/>
<circle cx="289.04" cy="124.30" r="1.95" fill="#333d47"/>
<circle cx="289.04" cy="131.20" r="1.95" fill="#333d47"/>
<circle cx="289.04" cy="138.00" r="1.95" fill="#333d47"/>
<circle cx="289.04" cy="145.00" r="1.50" fill="#bdbdbd"/>
<line x1="296.69" y1="110.60" x2="296.69" y2="145.00" stroke="#3a4550" stroke-width="1.0"/>
<circle cx="296.69" cy="110.60" r="1.95" fill="#333d47"/>
<circle cx="296.69" cy="117.50" r="1.50" fill="#bdbdbd"/>
<circle cx="296.69" cy="124.30" r="1.95" fill="#333d47"/>
<circle cx="296.69" cy="131.20" r="1.50" fill="#bdbdbd"/>
<circle cx="296.69" cy="138.00" r="1.95" fill="#333d47"/>
<circle cx="296.69" cy="145.00" r="1.95" fill="#333d47"/>
<line x1="304.34" y1="110.60" x2="304.34" y2="145.00" stroke="#3a4550" stroke-width="1.0"/>
<circle cx="304.34" cy="110.60" r="1.95" fill="#333d47"/>
<circle cx="304.34" cy="117.50" r="1.50" fill="#bdbdbd"/>
<circle cx="304.34" cy="124.30" r="1.95" fill="#333d47"/>
<circle cx="304.34" cy="131.20" r="1.95" fill="#333d47"/>
<circle cx="304.34" cy="138.00" r="1.50" fill="#bdbdbd"/>
<circle cx="304.34" cy="145.00" r="1.95" fill="#333d47"/>
<line x1="311.98" y1="110.60" x2="311.98" y2="145.00" stroke="#3a4550" stroke-width="1.0"/>
<circle cx="311.98" cy="110.60" r="1.95" fill="#333d47"/>
<circle cx="311.98" cy="117.50" r="1.95" fill="#333d47"/>
<circle cx="311.98" cy="124.30" r="1.50" fill="#bdbdbd"/>
<circle cx="311.98" cy="131.20" r="1.95" fill="#333d47"/>
<circle cx="311.98" cy="138.00" r="1.50" fill="#bdbdbd"/>
<circle cx="311.98" cy="145.00" r="1.95" fill="#333d47"/>
<line x1="319.63" y1="110.60" x2="319.63" y2="131.20" stroke="#3a4550" stroke-width="1.0"/>
<circle cx="319.63" cy="110.60" r="1.95" fill="#333d47"/>
<circle cx="319.63" cy="117.50" r="1.95" fill="#333d47"/>
<circle cx="319.63" cy="124.30" r="1.95" fill="#333d47"/>
<circle cx="319.63" cy="131.20" r="1.95" fill="#333d47"/>
<circle cx="319.63" cy="138.00" r="1.50" fill="#bdbdbd"/>
<circle cx="319.63" cy="145.00" r="1.50" fill="#bdbdbd"/>
<line x1="327.28" y1="117.50" x2="327.28" y2="145.00" stroke="#3a4550" stroke-width="1.0"/>
<circle cx="327.28" cy="110.60" r="1.50" fill="#bdbdbd"/>
<circle cx="327.28" cy="117.50" r="1.95" fill="#333d47"/>
<circle cx="327.28" cy="124.30" r="1.95" fill="#333d47"/>
<circle cx="327.28" cy="131.20" r="1.95" fill="#333d47"/>
<circle cx="327.28" cy="138.00" r="1.95" fill="#333d47"/>
<circle cx="327.28" cy="145.00" r="1.95" fill="#333d47"/>
<line x1="334.93" y1="110.60" x2="334.93" y2="145.00" stroke="#3a4550" stroke-width="1.0"/>
<circle cx="334.93" cy="110.60" r="1.95" fill="#333d47"/>
<circle cx="334.93" cy="117.50" r="1.50" fill="#bdbdbd"/>
<circle cx="334.93" cy="124.30" r="1.95" fill="#333d47"/>
<circle cx="334.93" cy="131.20" r="1.95" fill="#333d47"/>
<circle cx="334.93" cy="138.00" r="1.95" fill="#333d47"/>
<circle cx="334.93" cy="145.00" r="1.95" fill="#333d47"/>
<text x="356.00" y="17.90" font-size="12.2" fill="#111" stroke="#111" stroke-width="0.45" font-weight="bold">B</text>
<text x="379.80" y="19.60" font-size="8.4" fill="#222" textLength="133.30" lengthAdjust="spacingAndGlyphs">94 Differentially Accessible Regions</text>
<text x="372.90" y="30.70" font-size="6.2" fill="#1f4d7a" font-weight="bold" textLength="47.80" lengthAdjust="spacingAndGlyphs">72 DARs closed</text>
<text x="368.20" y="39.30" font-size="6.6" fill="#3e70a6" textLength="57.80" lengthAdjust="spacingAndGlyphs">contain 39 α-satellite</text>
<text x="388.00" y="47.00" font-size="6.6" fill="#3e70a6" textLength="18.70" lengthAdjust="spacingAndGlyphs">regions</text>
<text x="446.00" y="30.70" font-size="6.2" fill="#1f4d7a" font-weight="bold" textLength="43.60" lengthAdjust="spacingAndGlyphs">22 DARs open</text>
<line x1="435.60" y1="44.00" x2="435.60" y2="136.60" stroke="#222" stroke-width="0.9"/>
<line x1="391.20" y1="136.60" x2="502.90" y2="136.60" stroke="#222" stroke-width="0.9"/>
<line x1="433.40" y1="125.84" x2="435.60" y2="125.84" stroke="#222" stroke-width="0.8"/>
<text x="427.00" y="128.24" font-size="6.8" fill="#222" text-anchor="middle">1</text>
<line x1="433.40" y1="115.78" x2="435.60" y2="115.78" stroke="#222" stroke-width="0.8"/>
<text x="427.00" y="118.18" font-size="6.8" fill="#222" text-anchor="middle">2</text>
<line x1="433.40" y1="105.72" x2="435.60" y2="105.72" stroke="#222" stroke-width="0.8"/>
<text x="427.00" y="108.12" font-size="6.8" fill="#222" text-anchor="middle">3</text>
<line x1="433.40" y1="95.66" x2="435.60" y2="95.66" stroke="#222" stroke-width="0.8"/>
<text x="427.00" y="98.06" font-size="6.8" fill="#222" text-anchor="middle">4</text>
<line x1="433.40" y1="85.60" x2="435.60" y2="85.60" stroke="#222" stroke-width="0.8"/>
<text x="427.00" y="88.00" font-size="6.8" fill="#222" text-anchor="middle">5</text>
<line x1="433.40" y1="75.54" x2="435.60" y2="75.54" stroke="#222" stroke-width="0.8"/>
<text x="427.00" y="77.94" font-size="6.8" fill="#222" text-anchor="middle">6</text>
<line x1="433.40" y1="65.48" x2="435.60" y2="65.48" stroke="#222" stroke-width="0.8"/>
<text x="427.00" y="67.88" font-size="6.8" fill="#222" text-anchor="middle">7</text>
<line x1="433.40" y1="55.42" x2="435.60" y2="55.42" stroke="#222" stroke-width="0.8"/>
<text x="427.00" y="57.82" font-size="6.8" fill="#222" text-anchor="middle">8</text>
<line x1="433.40" y1="45.36" x2="435.60" y2="45.36" stroke="#222" stroke-width="0.8"/>
<text x="427.00" y="47.76" font-size="6.8" fill="#222" text-anchor="middle">9</text>
<line x1="392.40" y1="136.60" x2="392.40" y2="138.80" stroke="#222" stroke-width="0.8"/>
<text x="391.20" y="148.30" font-size="6.6" fill="#222" text-anchor="middle">−2</text>
<line x1="414.00" y1="136.60" x2="414.00" y2="138.80" stroke="#222" stroke-width="0.8"/>
<text x="412.80" y="148.30" font-size="6.6" fill="#222" text-anchor="middle">−1</text>
<line x1="435.60" y1="136.60" x2="435.60" y2="138.80" stroke="#222" stroke-width="0.8"/>
<text x="435.60" y="148.30" font-size="6.6" fill="#222" text-anchor="middle">0</text>
<line x1="457.20" y1="136.60" x2="457.20" y2="138.80" stroke="#222" stroke-width="0.8"/>
<text x="457.20" y="148.30" font-size="6.6" fill="#222" text-anchor="middle">1</text>
<line x1="478.80" y1="136.60" x2="478.80" y2="138.80" stroke="#222" stroke-width="0.8"/>
<text x="478.80" y="148.30" font-size="6.6" fill="#222" text-anchor="middle">2</text>
<line x1="500.40" y1="136.60" x2="500.40" y2="138.80" stroke="#222" stroke-width="0.8"/>
<text x="500.40" y="148.30" font-size="6.6" fill="#222" text-anchor="middle">3</text>
<text x="434.30" y="159.40" font-size="8.6" fill="#222" text-anchor="middle" textLength="49.20" lengthAdjust="spacingAndGlyphs">Log2 fold change</text>
<text x="441.90" y="86.70" font-size="8.2" fill="#222" stroke="#222" stroke-width="0.25" text-anchor="middle" textLength="52.50" lengthAdjust="spacingAndGlyphs" transform="rotate(90 441.90 86.70)">-neg log 10 <tspan font-style="italic">P</tspan> value</text>
<circle cx="406.80" cy="54.90" r="1.35" fill="#1b4a78"/>
<circle cx="413.20" cy="57.10" r="1.35" fill="#1b4a78"/>
<circle cx="408.20" cy="71.70" r="1.35" fill="#1b4a78"/>
<circle cx="409.60" cy="71.90" r="1.35" fill="#1b4a78"/>
<circle cx="411.80" cy="72.20" r="1.35" fill="#1b4a78"/>
<circle cx="412.60" cy="75.30" r="1.35" fill="#1b4a78"/>
<circle cx="404.00" cy="83.20" r="1.35" fill="#1b4a78"/>
<circle cx="401.20" cy="86.30" r="1.35" fill="#1b4a78"/>
<circle cx="410.70" cy="82.60" r="1.35" fill="#1b4a78"/>
<circle cx="412.00" cy="84.50" r="1.35" fill="#1b4a78"/>
<circle cx="411.30" cy="86.70" r="1.35" fill="#1b4a78"/>
<circle cx="412.60" cy="88.00" r="1.35" fill="#1b4a78"/>
<circle cx="411.20" cy="89.80" r="1.35" fill="#1b4a78"/>
<circle cx="410.50" cy="92.20" r="1.35" fill="#1b4a78"/>
<circle cx="412.80" cy="93.60" r="1.35" fill="#1b4a78"/>
<circle cx="411.50" cy="95.20" r="1.35" fill="#1b4a78"/>
<circle cx="406.80" cy="94.50" r="1.35" fill="#1b4a78"/>
<circle cx="406.00" cy="97.00" r="1.35" fill="#1b4a78"/>
<circle cx="408.80" cy="99.00" r="1.35" fill="#1b4a78"/>
<circle cx="402.30" cy="99.20" r="1.35" fill="#1b4a78"/>
<circle cx="403.50" cy="101.50" r="1.35" fill="#1b4a78"/>
<circle cx="402.90" cy="103.40" r="1.35" fill="#1b4a78"/>
<circle cx="397.80" cy="112.30" r="1.35" fill="#1b4a78"/>
<circle cx="402.90" cy="113.70" r="1.35" fill="#1b4a78"/>
<circle cx="409.75" cy="108.12" r="1.35" fill="#1b4a78"/>
<circle cx="407.08" cy="110.06" r="1.35" fill="#1b4a78"/>
<circle cx="408.83" cy="115.54" r="1.35" fill="#1b4a78"/>
<circle cx="414.44" cy="116.32" r="1.35" fill="#1b4a78"/>
<circle cx="409.39" cy="112.03" r="1.35" fill="#1b4a78"/>
<circle cx="412.43" cy="117.27" r="1.35" fill="#1b4a78"/>
<circle cx="411.03" cy="110.20" r="1.35" fill="#1b4a78"/>
<circle cx="408.55" cy="114.21" r="1.35" fill="#1b4a78"/>
<circle cx="406.04" cy="106.19" r="1.35" fill="#1b4a78"/>
<circle cx="405.27" cy="115.71" r="1.35" fill="#1b4a78"/>
<circle cx="409.05" cy="115.10" r="1.35" fill="#1b4a78"/>
<circle cx="409.68" cy="107.48" r="1.35" fill="#1b4a78"/>
<circle cx="409.29" cy="115.71" r="1.35" fill="#1b4a78"/>
<circle cx="411.45" cy="111.15" r="1.35" fill="#1b4a78"/>
<circle cx="408.46" cy="102.39" r="1.35" fill="#1b4a78"/>
<circle cx="408.19" cy="101.02" r="1.35" fill="#1b4a78"/>
<circle cx="405.81" cy="109.24" r="1.35" fill="#1b4a78"/>
<circle cx="404.50" cy="111.51" r="1.35" fill="#1b4a78"/>
<circle cx="410.35" cy="115.16" r="1.35" fill="#1b4a78"/>
<circle cx="410.69" cy="113.54" r="1.35" fill="#1b4a78"/>
<circle cx="412.22" cy="115.77" r="1.35" fill="#1b4a78"/>
<circle cx="407.96" cy="112.97" r="1.35" fill="#1b4a78"/>
<circle cx="406.94" cy="117.16" r="1.35" fill="#1b4a78"/>
<circle cx="407.46" cy="109.49" r="1.35" fill="#1b4a78"/>
<circle cx="404.64" cy="109.30" r="1.35" fill="#1b4a78"/>
<circle cx="407.02" cy="101.80" r="1.35" fill="#1b4a78"/>
<circle cx="414.45" cy="99.44" r="1.35" fill="#1b4a78"/>
<circle cx="408.76" cy="113.56" r="1.35" fill="#1b4a78"/>
<circle cx="413.81" cy="102.61" r="1.35" fill="#1b4a78"/>
<circle cx="412.29" cy="112.01" r="1.35" fill="#1b4a78"/>
<circle cx="409.10" cy="112.47" r="1.35" fill="#1b4a78"/>
<circle cx="411.17" cy="108.97" r="1.35" fill="#1b4a78"/>
<circle cx="409.29" cy="114.85" r="1.35" fill="#1b4a78"/>
<circle cx="414.28" cy="99.46" r="1.35" fill="#1b4a78"/>
<circle cx="413.47" cy="110.39" r="1.35" fill="#1b4a78"/>
<circle cx="408.24" cy="115.21" r="1.35" fill="#1b4a78"/>
<circle cx="408.29" cy="105.15" r="1.35" fill="#1b4a78"/>
<circle cx="410.04" cy="115.88" r="1.35" fill="#1b4a78"/>
<circle cx="408.91" cy="116.00" r="1.35" fill="#1b4a78"/>
<circle cx="409.04" cy="110.91" r="1.35" fill="#1b4a78"/>
<circle cx="414.50" cy="103.17" r="1.35" fill="#1b4a78"/>
<circle cx="404.50" cy="116.58" r="1.35" fill="#1b4a78"/>
<circle cx="409.12" cy="114.71" r="1.35" fill="#1b4a78"/>
<circle cx="408.97" cy="116.39" r="1.35" fill="#1b4a78"/>
<circle cx="410.36" cy="110.24" r="1.35" fill="#1b4a78"/>
<circle cx="408.34" cy="114.70" r="1.35" fill="#1b4a78"/>
<circle cx="414.50" cy="113.52" r="1.35" fill="#1b4a78"/>
<circle cx="406.94" cy="100.07" r="1.35" fill="#1b4a78"/>
<circle cx="411.52" cy="113.08" r="1.35" fill="#1b4a78"/>
<circle cx="406.45" cy="115.26" r="1.35" fill="#1b4a78"/>
<circle cx="475.40" cy="49.80" r="1.35" fill="#1b4a78"/>
<circle cx="464.00" cy="72.10" r="1.35" fill="#1b4a78"/>
<circle cx="473.20" cy="88.30" r="1.35" fill="#1b4a78"/>
<circle cx="481.80" cy="92.90" r="1.35" fill="#1b4a78"/>
<circle cx="459.00" cy="95.20" r="1.35" fill="#1b4a78"/>
<circle cx="460.60" cy="94.00" r="1.35" fill="#1b4a78"/>
<circle cx="463.00" cy="98.00" r="1.35" fill="#1b4a78"/>
<circle cx="465.40" cy="99.20" r="1.35" fill="#1b4a78"/>
<circle cx="462.50" cy="101.50" r="1.35" fill="#1b4a78"/>
<circle cx="460.80" cy="103.80" r="1.35" fill="#1b4a78"/>
<circle cx="464.80" cy="105.00" r="1.35" fill="#1b4a78"/>
<circle cx="457.30" cy="107.30" r="1.35" fill="#1b4a78"/>
<circle cx="457.90" cy="109.00" r="1.35" fill="#1b4a78"/>
<circle cx="464.20" cy="108.80" r="1.35" fill="#1b4a78"/>
<circle cx="468.30" cy="110.50" r="1.35" fill="#1b4a78"/>
<circle cx="476.70" cy="107.00" r="1.35" fill="#1b4a78"/>
<circle cx="460.80" cy="111.70" r="1.35" fill="#1b4a78"/>
<circle cx="463.00" cy="112.00" r="1.35" fill="#1b4a78"/>
<circle cx="460.20" cy="115.40" r="1.35" fill="#1b4a78"/>
<circle cx="458.50" cy="110.20" r="1.35" fill="#1b4a78"/>
<circle cx="461.80" cy="112.60" r="1.35" fill="#1b4a78"/>
<text x="6.80" y="189.60" font-size="12.2" fill="#111" stroke="#111" stroke-width="0.45" font-weight="bold">C</text>
<text x="49.40" y="202.80" font-size="6.5" fill="#2a2a2a" text-anchor="middle">ELDR interacting</text>
<text x="49.40" y="210.45" font-size="6.5" fill="#2a2a2a" text-anchor="middle">Proteins by</text>
<text x="49.40" y="218.10" font-size="6.5" fill="#2a2a2a" text-anchor="middle">ChIRP-MS</text>
<text x="116.20" y="202.80" font-size="6.5" fill="#2a2a2a" text-anchor="middle">CENP-A Interactors</text>
<text x="116.20" y="210.45" font-size="6.5" fill="#2a2a2a" text-anchor="middle">with physical (LTP)</text>
<text x="116.20" y="218.10" font-size="6.5" fill="#2a2a2a" text-anchor="middle">evidence</text>
<defs><clipPath id="cl"><circle cx="58.5" cy="256.5" r="34.4"/></clipPath></defs>
<circle cx="58.50" cy="256.50" r="34.40" fill="#96b4ca"/>
<circle cx="107.30" cy="256.50" r="34.60" fill="#fccc92"/>
<circle cx="107.3" cy="256.5" r="34.6" fill="#a3a8a2" clip-path="url(#cl)"/>
<circle cx="58.50" cy="256.50" r="34.40" fill="none" stroke="#1f2a38" stroke-width="1.3"/>
<circle cx="107.30" cy="256.50" r="34.60" fill="none" stroke="#1f2a38" stroke-width="1.3"/>
<text x="51.90" y="259.70" font-size="8.6" fill="#2c4464" text-anchor="middle">24</text>
<text x="82.30" y="259.70" font-size="8.6" fill="#3a4046" text-anchor="middle">7</text>
<text x="119.00" y="259.70" font-size="8.6" fill="#4a3422" text-anchor="middle">34</text>
<line x1="82.90" y1="262.50" x2="82.90" y2="299.00" stroke="#111" stroke-width="0.9"/>
<polygon points="80.9,298.2 84.9,298.2 82.9,302.8" fill="#111"/>
<text x="83.00" y="312.50" font-size="6.45" fill="#222" text-anchor="middle" textLength="98.70" lengthAdjust="spacingAndGlyphs">SUPT16H, BAZ1B, XRCC5, TOP1</text>
<text x="83.00" y="320.00" font-size="6.45" fill="#222" text-anchor="middle" textLength="61.50" lengthAdjust="spacingAndGlyphs">TOP2A, NOL8, NPM1</text>
<text x="168.30" y="189.60" font-size="12.2" fill="#111" stroke="#111" stroke-width="0.45" font-weight="bold">D</text>
<text x="180.60" y="201.60" font-size="6.4" fill="#333" textLength="42.40" lengthAdjust="spacingAndGlyphs">Chromosome 5</text>
<rect x="191.5" y="206.8" width="203.8" height="115.19999999999999" fill="#fff" stroke="#c9c9c9" stroke-width="0.9"/>
<line x1="191.50" y1="218.30" x2="395.30" y2="218.30" stroke="#b5b5b5" stroke-width="0.8"/>
<line x1="191.50" y1="230.00" x2="395.30" y2="230.00" stroke="#b5b5b5" stroke-width="0.8"/>
<line x1="191.50" y1="241.60" x2="395.30" y2="241.60" stroke="#e4e4e4" stroke-width="0.6"/>
<text x="193.00" y="210.60" font-size="3.0" fill="#555">[0 - 1.00]</text>
<text x="193.00" y="222.20" font-size="3.0" fill="#555">[0 - 1.00]</text>
<text x="193.00" y="234.20" font-size="3.0" fill="#555">[0 - 1.00]</text>
<text x="193.00" y="259.00" font-size="3.0" fill="#555">[0 - 4.00]</text>
<text x="193.00" y="270.50" font-size="3.0" fill="#555">[0 - 4.00]</text>
<text x="193.00" y="282.40" font-size="3.0" fill="#555">[0 - 5.00]</text>
<text x="193.00" y="294.30" font-size="3.0" fill="#555">[0 - 1.0]</text>
<text x="253.50" y="216.80" font-size="6.8" fill="#333" textLength="41.20" lengthAdjust="spacingAndGlyphs">- Centromere -</text>
<rect x="305.70" y="213.30" width="1.40" height="4.50" fill="#6a8fb2"/>
<rect x="325.40" y="208.00" width="0.80" height="9.80" fill="#1d3f66"/>
<rect x="332.00" y="211.30" width="0.80" height="6.50" fill="#3a6a98"/>
<rect x="334.15" y="208.60" width="0.90" height="9.20" fill="#1d3f66"/>
<rect x="335.40" y="210.80" width="0.80" height="7.00" fill="#2a5a88"/>
<rect x="326.15" y="215.30" width="0.90" height="2.50" fill="#1d3f66"/>
<polygon points="333.2,217.8 335.4,214.60000000000002 337.6,217.8" fill="#1a3a60"/>
<polygon points="325.2,217.8 326.0,215.20000000000002 326.9,217.8" fill="#1a3a60"/>
<circle cx="384.60" cy="217.20" r="0.45" fill="#555"/>
<circle cx="391.50" cy="217.20" r="0.45" fill="#555"/>
<rect x="305.70" y="222.50" width="1.40" height="7.00" fill="#6a8fb2"/>
<rect x="325.40" y="219.70" width="0.80" height="9.80" fill="#1d3f66"/>
<rect x="332.00" y="223.00" width="0.80" height="6.50" fill="#3a6a98"/>
<rect x="334.15" y="220.30" width="0.90" height="9.20" fill="#1d3f66"/>
<rect x="335.40" y="222.50" width="0.80" height="7.00" fill="#2a5a88"/>
<rect x="326.15" y="227.00" width="0.90" height="2.50" fill="#1d3f66"/>
<polygon points="333.2,229.5 335.4,226.3 337.6,229.5" fill="#1a3a60"/>
<polygon points="325.2,229.5 326.0,226.9 326.9,229.5" fill="#1a3a60"/>
<circle cx="384.60" cy="228.90" r="0.45" fill="#555"/>
<circle cx="391.50" cy="228.90" r="0.45" fill="#555"/>
<rect x="305.70" y="232.70" width="1.40" height="8.50" fill="#6a8fb2"/>
<rect x="325.40" y="231.40" width="0.80" height="9.80" fill="#1d3f66"/>
<rect x="332.00" y="234.70" width="0.80" height="6.50" fill="#3a6a98"/>
<rect x="334.15" y="232.00" width="0.90" height="9.20" fill="#1d3f66"/>
<rect x="335.40" y="234.20" width="0.80" height="7.00" fill="#2a5a88"/>
<rect x="326.15" y="238.70" width="0.90" height="2.50" fill="#1d3f66"/>
<polygon points="333.2,241.2 335.4,238.0 337.6,241.2" fill="#1a3a60"/>
<polygon points="325.2,241.2 326.0,238.6 326.9,241.2" fill="#1a3a60"/>
<circle cx="384.60" cy="240.60" r="0.45" fill="#555"/>
<circle cx="391.50" cy="240.60" r="0.45" fill="#555"/>
<line x1="214.00" y1="242.50" x2="225.00" y2="242.50" stroke="#bbb" stroke-width="0.4"/>
<line x1="228.00" y1="242.50" x2="232.00" y2="242.50" stroke="#bbb" stroke-width="0.4"/>
<rect x="253.00" y="243.80" width="1.00" height="9.20" fill="#9db1c9"/>
<rect x="258.00" y="243.80" width="1.00" height="9.20" fill="#9db1c9"/>
<rect x="264.10" y="243.80" width="1.00" height="9.20" fill="#9db1c9"/>
<rect x="271.80" y="243.80" width="1.00" height="9.20" fill="#9db1c9"/>
<rect x="276.10" y="243.80" width="1.00" height="9.20" fill="#9db1c9"/>
<rect x="285.70" y="243.80" width="1.00" height="9.20" fill="#9db1c9"/>
<rect x="291.00" y="243.80" width="1.00" height="9.20" fill="#9db1c9"/>
<rect x="296.10" y="243.80" width="1.00" height="9.20" fill="#9db1c9"/>
<rect x="300.70" y="243.80" width="1.00" height="9.20" fill="#9db1c9"/>
<text x="322.00" y="249.20" font-size="2.6" fill="#777">peak_ELDR</text>
<path d="M192.00,266.30 L192.00,264.70 L192.60,265.18 L193.20,264.84 L193.80,265.25 L194.40,265.18 L195.00,264.86 L195.60,264.84 L196.20,264.72 L196.80,264.52 L197.40,260.80 L198.00,264.35 L198.60,265.06 L199.20,264.41 L199.80,264.68 L200.40,265.03 L201.00,264.61 L201.60,264.71 L202.20,264.55 L202.80,265.05 L203.40,264.38 L204.00,264.42 L204.60,265.24 L205.20,264.87 L205.80,265.20 L206.40,265.23 L207.00,265.21 L207.60,264.75 L208.20,264.93 L208.80,265.09 L209.40,264.56 L210.00,264.46 L210.60,265.18 L211.20,264.68 L211.80,265.09 L212.40,265.04 L213.00,264.49 L213.60,264.65 L214.20,264.97 L214.80,264.55 L215.40,264.87 L216.00,264.93 L216.60,264.42 L217.20,265.22 L217.80,264.82 L218.40,265.00 L219.00,264.52 L219.60,265.09 L220.20,265.22 L220.80,264.58 L221.40,265.02 L222.00,265.16 L222.60,264.57 L223.20,265.18 L223.80,264.73 L224.40,264.36 L225.00,264.39 L225.60,264.50 L226.20,264.98 L226.80,264.37 L227.40,265.05 L228.00,264.94 L228.60,266.30 L229.20,266.30 L229.80,266.30 L230.40,265.07 L231.00,264.83 L231.60,265.36 L232.20,264.80 L232.80,265.48 L233.40,265.06 L234.00,265.05 L234.60,264.98 L235.20,265.45 L235.80,264.87 L236.40,265.43 L237.00,264.91 L237.60,265.43 L238.20,265.38 L238.80,264.98 L239.40,265.32 L240.00,264.89 L240.60,264.89 L241.20,265.23 L241.80,264.96 L242.40,265.07 L243.00,264.92 L243.60,264.77 L244.20,264.84 L244.80,264.82 L245.40,264.83 L246.00,264.79 L246.60,264.99 L247.20,264.93 L247.80,265.16 L248.40,265.38 L249.00,261.45 L249.60,262.36 L250.20,262.79 L250.80,262.57 L251.40,263.15 L252.00,262.53 L252.60,261.68 L253.20,262.85 L253.80,262.15 L254.40,256.03 L255.00,263.21 L255.60,262.84 L256.20,262.71 L256.80,261.81 L257.40,262.84 L258.00,262.60 L258.60,261.41 L259.20,261.93 L259.80,262.10 L260.40,261.08 L261.00,256.01 L261.60,261.93 L262.20,262.09 L262.80,263.18 L263.40,261.30 L264.00,262.34 L264.60,262.01 L265.20,255.82 L265.80,262.71 L266.40,262.12 L267.00,262.37 L267.60,261.52 L268.20,262.91 L268.80,262.50 L269.40,261.13 L270.00,262.01 L270.60,255.82 L271.20,261.96 L271.80,261.37 L272.40,261.25 L273.00,261.24 L273.60,263.09 L274.20,261.51 L274.80,262.10 L275.40,255.91 L276.00,261.16 L276.60,262.54 L277.20,262.26 L277.80,263.07 L278.40,262.78 L279.00,261.99 L279.60,262.91 L280.20,262.52 L280.80,263.11 L281.40,262.13 L282.00,262.40 L282.60,261.58 L283.20,262.31 L283.80,255.88 L284.40,261.67 L285.00,262.36 L285.60,261.52 L286.20,261.89 L286.80,263.27 L287.40,261.30 L288.00,261.76 L288.60,262.57 L289.20,261.95 L289.80,262.46 L290.40,261.63 L291.00,262.80 L291.60,261.47 L292.20,255.94 L292.80,261.49 L293.40,261.23 L294.00,262.95 L294.60,263.06 L295.20,261.53 L295.80,262.29 L296.40,261.82 L297.00,262.73 L297.60,262.91 L298.20,262.28 L298.80,256.00 L299.40,262.02 L300.00,261.38 L300.60,261.25 L301.20,262.47 L301.80,263.26 L302.40,261.55 L303.00,261.33 L303.60,261.65 L304.20,263.25 L304.80,262.44 L305.40,263.03 L306.00,262.03 L306.60,261.33 L307.20,261.77 L307.80,265.70 L308.40,265.70 L309.00,265.70 L309.60,265.70 L310.20,264.70 L310.80,265.70 L311.40,265.70 L312.00,265.70 L312.60,265.70 L313.20,265.70 L313.80,265.70 L314.40,264.70 L315.00,265.70 L315.60,265.70 L316.20,265.70 L316.80,265.70 L317.40,265.70 L318.00,265.60 L318.60,263.10 L319.20,265.60 L319.80,265.60 L320.40,265.60 L321.00,265.60 L321.60,265.60 L322.20,265.60 L322.80,265.60 L323.40,263.10 L324.00,265.60 L324.60,265.60 L325.20,265.60 L325.80,257.30 L326.40,257.30 L327.00,265.60 L327.60,265.60 L328.20,265.60 L328.80,265.60 L329.40,265.60 L330.00,265.60 L330.60,265.60 L331.20,265.60 L331.80,257.30 L332.40,257.30 L333.00,265.60 L333.60,265.60 L334.20,265.60 L334.80,265.60 L335.40,265.60 L336.00,265.60 L336.60,265.60 L337.20,265.60 L337.80,265.60 L338.40,265.60 L339.00,265.60 L339.60,265.60 L340.20,265.60 L340.80,265.60 L341.40,265.60 L342.00,265.60 L342.60,265.60 L343.20,265.60 L343.80,265.60 L344.40,265.60 L345.00,265.60 L345.60,265.60 L346.20,265.60 L346.80,265.60 L347.40,265.60 L348.00,265.60 L348.60,265.60 L349.20,265.60 L349.80,265.60 L350.40,265.60 L351.00,265.60 L351.60,265.60 L352.20,265.60 L352.80,265.60 L353.40,265.60 L354.00,265.60 L354.60,265.60 L355.20,265.60 L355.80,263.10 L356.40,265.60 L357.00,265.60 L357.60,265.60 L358.20,265.60 L358.80,265.60 L359.40,265.60 L360.00,265.60 L360.60,265.60 L361.20,265.60 L361.80,265.60 L362.40,265.60 L363.00,265.60 L363.60,265.60 L364.20,265.60 L364.80,265.60 L365.40,265.60 L366.00,265.60 L366.60,265.60 L367.20,265.60 L367.80,265.60 L368.40,265.60 L369.00,265.60 L369.60,265.60 L370.20,265.60 L370.80,265.60 L371.40,265.60 L372.00,265.60 L372.60,265.60 L373.20,265.60 L373.80,265.60 L374.40,265.60 L375.00,265.60 L375.60,265.60 L376.20,265.60 L376.80,265.60 L377.40,263.10 L378.00,265.60 L378.60,265.60 L379.20,265.60 L379.80,265.60 L380.40,265.60 L381.00,265.60 L381.60,265.60 L382.20,265.60 L382.80,265.60 L383.40,265.60 L384.00,265.60 L384.60,265.60 L385.20,265.60 L385.80,265.60 L386.40,265.60 L387.00,265.60 L387.60,265.60 L388.20,265.60 L388.80,265.60 L389.40,265.60 L390.00,265.60 L390.60,265.60 L391.20,265.60 L391.80,265.60 L392.40,265.60 L393.00,265.60 L393.60,265.60 L394.20,265.60 L394.80,265.60 L395.00,266.30 Z" fill="#c8173f"/>
<rect x="305.80" y="256.50" width="1.20" height="9.80" fill="#c8173f"/>
<path d="M192.00,278.00 L192.00,274.93 L192.60,275.29 L193.20,274.31 L193.80,274.74 L194.40,274.44 L195.00,275.44 L195.60,274.63 L196.20,274.42 L196.80,274.64 L197.40,274.66 L198.00,274.37 L198.60,275.41 L199.20,275.13 L199.80,275.26 L200.40,275.22 L201.00,274.70 L201.60,275.05 L202.20,274.44 L202.80,275.23 L203.40,274.39 L204.00,274.70 L204.60,274.73 L205.20,274.32 L205.80,274.87 L206.40,275.45 L207.00,274.78 L207.60,275.20 L208.20,275.40 L208.80,274.59 L209.40,275.17 L210.00,274.84 L210.60,274.42 L211.20,275.46 L211.80,274.60 L212.40,274.38 L213.00,274.90 L213.60,274.83 L214.20,275.07 L214.80,274.56 L215.40,274.89 L216.00,274.49 L216.60,274.88 L217.20,275.29 L217.80,275.30 L218.40,275.22 L219.00,274.97 L219.60,274.56 L220.20,275.22 L220.80,275.23 L221.40,274.90 L222.00,275.46 L222.60,274.64 L223.20,274.45 L223.80,275.32 L224.40,274.90 L225.00,274.98 L225.60,275.18 L226.20,275.41 L226.80,274.82 L227.40,274.55 L228.00,275.21 L228.60,278.00 L229.20,278.00 L229.80,278.00 L230.40,275.29 L231.00,275.89 L231.60,275.79 L232.20,275.81 L232.80,275.00 L233.40,275.93 L234.00,275.51 L234.60,275.74 L235.20,275.95 L235.80,275.09 L236.40,275.83 L237.00,275.45 L237.60,275.95 L238.20,274.93 L238.80,275.53 L239.40,275.49 L240.00,275.91 L240.60,274.80 L241.20,275.12 L241.80,275.70 L242.40,275.71 L243.00,275.45 L243.60,275.56 L244.20,274.82 L244.80,275.95 L245.40,275.22 L246.00,275.93 L246.60,275.17 L247.20,275.29 L247.80,275.44 L248.40,274.99 L249.00,272.66 L249.60,273.03 L250.20,273.10 L250.80,273.14 L251.40,273.03 L252.00,272.47 L252.60,272.52 L253.20,272.01 L253.80,273.05 L254.40,273.34 L255.00,271.98 L255.60,272.90 L256.20,273.10 L256.80,272.64 L257.40,271.93 L258.00,272.91 L258.60,273.16 L259.20,272.71 L259.80,271.91 L260.40,273.46 L261.00,272.79 L261.60,273.32 L262.20,272.78 L262.80,272.36 L263.40,272.63 L264.00,272.98 L264.60,273.17 L265.20,273.43 L265.80,272.57 L266.40,273.20 L267.00,271.95 L267.60,271.90 L268.20,273.18 L268.80,272.88 L269.40,272.61 L270.00,272.65 L270.60,273.00 L271.20,272.74 L271.80,273.41 L272.40,272.11 L273.00,271.72 L273.60,271.35 L274.20,272.02 L274.80,273.02 L275.40,272.03 L276.00,271.59 L276.60,272.98 L277.20,273.30 L277.80,272.64 L278.40,272.66 L279.00,272.41 L279.60,272.88 L280.20,272.61 L280.80,273.13 L281.40,272.97 L282.00,272.75 L282.60,272.57 L283.20,272.22 L283.80,272.28 L284.40,273.45 L285.00,272.70 L285.60,273.36 L286.20,273.38 L286.80,272.21 L287.40,272.78 L288.00,273.45 L288.60,272.74 L289.20,272.26 L289.80,272.03 L290.40,272.47 L291.00,271.40 L291.60,272.70 L292.20,271.43 L292.80,272.12 L293.40,272.60 L294.00,272.89 L294.60,271.67 L295.20,272.66 L295.80,273.42 L296.40,272.38 L297.00,272.71 L297.60,271.35 L298.20,273.08 L298.80,272.00 L299.40,273.50 L300.00,272.63 L300.60,272.97 L301.20,272.07 L301.80,272.13 L302.40,271.67 L303.00,272.77 L303.60,272.74 L304.20,272.81 L304.80,271.97 L305.40,271.38 L306.00,273.15 L306.60,272.13 L307.20,272.26 L307.80,277.00 L308.40,277.00 L309.00,277.00 L309.60,277.00 L310.20,277.00 L310.80,277.00 L311.40,277.00 L312.00,277.00 L312.60,277.00 L313.20,277.00 L313.80,277.00 L314.40,277.00 L315.00,277.00 L315.60,277.00 L316.20,277.00 L316.80,277.00 L317.40,277.00 L318.00,272.47 L318.60,272.51 L319.20,273.74 L319.80,273.13 L320.40,272.60 L321.00,273.87 L321.60,272.99 L322.20,274.45 L322.80,273.24 L323.40,272.09 L324.00,272.94 L324.60,273.74 L325.20,273.81 L325.80,272.03 L326.40,272.86 L327.00,274.87 L327.60,274.14 L328.20,272.02 L328.80,274.01 L329.40,273.37 L330.00,273.88 L330.60,274.07 L331.20,272.48 L331.80,273.82 L332.40,272.70 L333.00,273.83 L333.60,272.92 L334.20,272.60 L334.80,274.47 L335.40,272.20 L336.00,273.54 L336.60,274.64 L337.20,274.94 L337.80,274.57 L338.40,274.18 L339.00,273.55 L339.60,273.90 L340.20,274.85 L340.80,272.32 L341.40,274.76 L342.00,276.41 L342.60,274.00 L343.20,276.11 L343.80,276.47 L344.40,276.48 L345.00,276.36 L345.60,276.27 L346.20,276.58 L346.80,276.11 L347.40,276.45 L348.00,276.22 L348.60,276.66 L349.20,276.66 L349.80,276.74 L350.40,276.20 L351.00,276.39 L351.60,276.79 L352.20,276.03 L352.80,276.38 L353.40,276.17 L354.00,276.48 L354.60,276.16 L355.20,276.19 L355.80,276.72 L356.40,276.48 L357.00,276.60 L357.60,276.07 L358.20,276.34 L358.80,276.49 L359.40,276.27 L360.00,276.51 L360.60,276.29 L361.20,276.58 L361.80,276.54 L362.40,276.53 L363.00,276.63 L363.60,276.21 L364.20,276.26 L364.80,276.72 L365.40,276.52 L366.00,276.79 L366.60,276.40 L367.20,276.54 L367.80,276.04 L368.40,276.10 L369.00,276.20 L369.60,276.71 L370.20,276.46 L370.80,276.62 L371.40,276.24 L372.00,276.58 L372.60,276.26 L373.20,276.54 L373.80,276.51 L374.40,276.68 L375.00,276.50 L375.60,276.28 L376.20,276.31 L376.80,276.11 L377.40,276.40 L378.00,276.71 L378.60,276.13 L379.20,276.44 L379.80,276.46 L380.40,276.62 L381.00,276.34 L381.60,276.39 L382.20,276.30 L382.80,276.33 L383.40,276.05 L384.00,276.43 L384.60,274.01 L385.20,276.55 L385.80,274.01 L386.40,276.11 L387.00,274.01 L387.60,276.41 L388.20,276.13 L388.80,276.05 L389.40,276.16 L390.00,274.01 L390.60,276.75 L391.20,276.23 L391.80,276.15 L392.40,276.37 L393.00,276.64 L393.60,276.58 L394.20,276.74 L394.80,276.17 L395.00,278.00 Z" fill="#5a2a12"/>
<rect x="305.80" y="269.00" width="1.20" height="9.00" fill="#5a2a12"/>
<path d="M192.00,290.20 L192.00,288.29 L192.60,288.30 L193.20,287.95 L193.80,288.09 L194.40,288.38 L195.00,287.88 L195.60,288.52 L196.20,288.01 L196.80,288.01 L197.40,288.06 L198.00,288.46 L198.60,288.49 L199.20,288.26 L199.80,288.20 L200.40,288.34 L201.00,288.17 L201.60,288.44 L202.20,288.34 L202.80,288.51 L203.40,288.26 L204.00,287.83 L204.60,288.27 L205.20,288.46 L205.80,288.06 L206.40,288.34 L207.00,288.45 L207.60,287.81 L208.20,288.09 L208.80,288.08 L209.40,288.11 L210.00,287.89 L210.60,288.10 L211.20,288.15 L211.80,287.93 L212.40,288.24 L213.00,288.07 L213.60,288.29 L214.20,288.12 L214.80,288.19 L215.40,288.10 L216.00,288.24 L216.60,288.12 L217.20,288.48 L217.80,287.81 L218.40,288.35 L219.00,288.01 L219.60,288.28 L220.20,288.50 L220.80,288.21 L221.40,287.93 L222.00,288.08 L222.60,287.94 L223.20,288.19 L223.80,288.55 L224.40,288.03 L225.00,288.40 L225.60,288.24 L226.20,287.91 L226.80,288.38 L227.40,288.54 L228.00,288.16 L228.60,289.90 L229.20,289.90 L229.80,289.90 L230.40,288.55 L231.00,288.60 L231.60,288.82 L232.20,288.98 L232.80,288.57 L233.40,288.94 L234.00,288.91 L234.60,288.58 L235.20,288.55 L235.80,288.51 L236.40,288.69 L237.00,288.56 L237.60,288.90 L238.20,288.78 L238.80,288.83 L239.40,288.69 L240.00,288.86 L240.60,288.65 L241.20,288.94 L241.80,288.77 L242.40,288.94 L243.00,288.53 L243.60,288.82 L244.20,288.50 L244.80,288.63 L245.40,288.84 L246.00,288.80 L246.60,288.68 L247.20,288.59 L247.80,288.77 L248.40,288.53 L249.00,288.83 L249.60,288.88 L250.20,287.26 L250.80,287.26 L251.40,286.79 L252.00,287.05 L252.60,287.13 L253.20,286.88 L253.80,287.52 L254.40,287.26 L255.00,287.07 L255.60,287.25 L256.20,286.79 L256.80,287.11 L257.40,286.53 L258.00,287.30 L258.60,287.19 L259.20,286.58 L259.80,286.94 L260.40,286.52 L261.00,287.49 L261.60,287.15 L262.20,286.80 L262.80,286.52 L263.40,287.57 L264.00,286.84 L264.60,287.17 L265.20,287.22 L265.80,286.87 L266.40,286.43 L267.00,286.41 L267.60,286.61 L268.20,286.76 L268.80,287.52 L269.40,287.12 L270.00,286.81 L270.60,286.41 L271.20,287.16 L271.80,287.13 L272.40,287.50 L273.00,286.82 L273.60,286.85 L274.20,287.30 L274.80,286.72 L275.40,287.46 L276.00,287.58 L276.60,286.57 L277.20,286.53 L277.80,287.18 L278.40,286.96 L279.00,286.65 L279.60,287.24 L280.20,287.45 L280.80,287.44 L281.40,286.99 L282.00,286.67 L282.60,287.30 L283.20,287.53 L283.80,287.06 L284.40,287.05 L285.00,287.47 L285.60,286.58 L286.20,286.44 L286.80,287.11 L287.40,286.56 L288.00,287.10 L288.60,287.59 L289.20,286.62 L289.80,286.74 L290.40,286.96 L291.00,287.47 L291.60,287.24 L292.20,286.83 L292.80,287.54 L293.40,287.51 L294.00,287.47 L294.60,286.50 L295.20,287.01 L295.80,286.54 L296.40,286.92 L297.00,286.52 L297.60,287.13 L298.20,286.71 L298.80,287.16 L299.40,287.03 L300.00,287.08 L300.60,287.06 L301.20,286.60 L301.80,286.97 L302.40,287.12 L303.00,287.48 L303.60,287.15 L304.20,287.02 L304.80,286.70 L305.40,287.59 L306.00,286.44 L306.60,287.59 L307.20,286.45 L307.80,288.96 L308.40,289.08 L309.00,288.96 L309.60,289.07 L310.20,288.99 L310.80,289.18 L311.40,289.10 L312.00,288.88 L312.60,289.03 L313.20,289.04 L313.80,288.93 L314.40,288.81 L315.00,289.07 L315.60,289.07 L316.20,288.88 L316.80,289.18 L317.40,289.18 L318.00,288.98 L318.60,288.83 L319.20,289.19 L319.80,288.90 L320.40,289.20 L321.00,286.44 L321.60,285.66 L322.20,281.95 L322.80,285.36 L323.40,285.45 L324.00,286.36 L324.60,286.39 L325.20,286.74 L325.80,287.49 L326.40,282.20 L327.00,286.06 L327.60,287.36 L328.20,286.77 L328.80,286.02 L329.40,287.07 L330.00,286.09 L330.60,282.18 L331.20,282.08 L331.80,287.61 L332.40,286.57 L333.00,281.92 L333.60,286.34 L334.20,281.93 L334.80,286.18 L335.40,287.15 L336.00,285.81 L336.60,285.32 L337.20,286.79 L337.80,282.27 L338.40,287.57 L339.00,281.81 L339.60,285.74 L340.20,288.91 L340.80,288.68 L341.40,288.89 L342.00,288.98 L342.60,288.72 L343.20,288.49 L343.80,288.62 L344.40,288.60 L345.00,288.83 L345.60,288.40 L346.20,288.50 L346.80,288.81 L347.40,288.83 L348.00,288.54 L348.60,288.76 L349.20,288.77 L349.80,288.49 L350.40,288.87 L351.00,288.72 L351.60,288.41 L352.20,288.96 L352.80,288.53 L353.40,288.95 L354.00,288.42 L354.60,288.55 L355.20,288.85 L355.80,288.96 L356.40,288.89 L357.00,288.73 L357.60,288.89 L358.20,288.92 L358.80,288.93 L359.40,288.87 L360.00,288.42 L360.60,288.52 L361.20,288.47 L361.80,288.76 L362.40,288.61 L363.00,288.41 L363.60,288.87 L364.20,288.54 L364.80,288.82 L365.40,288.95 L366.00,288.85 L366.60,288.64 L367.20,288.73 L367.80,288.71 L368.40,288.48 L369.00,288.91 L369.60,288.45 L370.20,288.85 L370.80,288.56 L371.40,288.88 L372.00,288.47 L372.60,288.64 L373.20,288.94 L373.80,288.42 L374.40,288.58 L375.00,288.51 L375.60,288.64 L376.20,288.89 L376.80,288.96 L377.40,288.66 L378.00,288.63 L378.60,288.83 L379.20,288.88 L379.80,288.84 L380.40,288.96 L381.00,288.78 L381.60,288.66 L382.20,288.78 L382.80,288.41 L383.40,288.59 L384.00,288.92 L384.60,288.98 L385.20,288.45 L385.80,288.42 L386.40,288.62 L387.00,288.56 L387.60,288.81 L388.20,288.95 L388.80,288.56 L389.40,288.56 L390.00,288.52 L390.60,288.45 L391.20,288.59 L391.80,288.48 L392.40,288.53 L393.00,288.66 L393.60,288.63 L394.20,288.65 L394.80,288.95 L395.00,290.20 Z" fill="#30ad4e"/>
<rect x="305.80" y="281.50" width="1.20" height="8.70" fill="#30ad4e"/>
<path d="M192.00,301.60 L192.00,300.70 L192.60,300.70 L193.20,300.70 L193.80,300.70 L194.40,300.70 L195.00,300.70 L195.60,300.70 L196.20,300.70 L196.80,300.70 L197.40,300.70 L198.00,300.70 L198.60,300.70 L199.20,300.70 L199.80,300.70 L200.40,300.70 L201.00,299.20 L201.60,300.70 L202.20,300.70 L202.80,300.70 L203.40,300.70 L204.00,300.70 L204.60,299.20 L205.20,299.20 L205.80,300.70 L206.40,300.70 L207.00,300.70 L207.60,300.70 L208.20,300.70 L208.80,300.70 L209.40,300.70 L210.00,300.70 L210.60,300.70 L211.20,300.70 L211.80,300.70 L212.40,300.70 L213.00,300.70 L213.60,300.70 L214.20,300.70 L214.80,300.70 L215.40,300.70 L216.00,300.70 L216.60,300.70 L217.20,300.70 L217.80,300.70 L218.40,300.70 L219.00,300.70 L219.60,300.70 L220.20,300.70 L220.80,300.70 L221.40,300.70 L222.00,300.70 L222.60,300.70 L223.20,300.70 L223.80,300.70 L224.40,300.70 L225.00,300.70 L225.60,300.70 L226.20,300.70 L226.80,300.70 L227.40,300.70 L228.00,300.70 L228.60,301.30 L229.20,301.30 L229.80,296.60 L230.40,296.60 L231.00,296.60 L231.60,300.80 L232.20,300.80 L232.80,300.80 L233.40,300.80 L234.00,300.80 L234.60,300.80 L235.20,300.80 L235.80,300.80 L236.40,300.80 L237.00,300.80 L237.60,300.80 L238.20,300.80 L238.80,300.80 L239.40,300.80 L240.00,300.80 L240.60,300.80 L241.20,300.80 L241.80,300.80 L242.40,300.80 L243.00,300.80 L243.60,300.80 L244.20,300.80 L244.80,300.80 L245.40,300.80 L246.00,300.80 L246.60,300.80 L247.20,300.80 L247.80,300.80 L248.40,300.80 L249.00,300.80 L249.60,300.80 L250.20,301.60 L250.80,301.60 L251.40,301.60 L252.00,301.60 L252.60,301.60 L253.20,301.60 L253.80,301.60 L254.40,301.60 L255.00,301.60 L255.60,301.60 L256.20,301.60 L256.80,301.60 L257.40,301.60 L258.00,301.60 L258.60,301.60 L259.20,301.60 L259.80,301.60 L260.40,301.60 L261.00,301.60 L261.60,301.60 L262.20,301.60 L262.80,301.60 L263.40,301.60 L264.00,301.60 L264.60,301.60 L265.20,301.60 L265.80,301.60 L266.40,301.60 L267.00,301.60 L267.60,301.60 L268.20,301.60 L268.80,301.60 L269.40,301.60 L270.00,301.60 L270.60,301.60 L271.20,301.60 L271.80,301.60 L272.40,301.60 L273.00,301.60 L273.60,301.60 L274.20,301.60 L274.80,301.60 L275.40,301.60 L276.00,301.60 L276.60,301.60 L277.20,301.60 L277.80,301.60 L278.40,301.60 L279.00,301.60 L279.60,301.60 L280.20,301.60 L280.80,301.60 L281.40,301.60 L282.00,301.60 L282.60,301.60 L283.20,301.60 L283.80,301.60 L284.40,301.60 L285.00,301.60 L285.60,301.60 L286.20,301.60 L286.80,301.60 L287.40,301.60 L288.00,301.60 L288.60,301.60 L289.20,301.60 L289.80,301.60 L290.40,301.60 L291.00,301.60 L291.60,301.60 L292.20,301.60 L292.80,301.60 L293.40,301.60 L294.00,301.60 L294.60,301.60 L295.20,301.60 L295.80,301.60 L296.40,301.60 L297.00,301.60 L297.60,301.60 L298.20,301.60 L298.80,301.60 L299.40,301.60 L300.00,301.60 L300.60,301.60 L301.20,301.60 L301.80,301.60 L302.40,301.60 L303.00,301.60 L303.60,301.60 L304.20,301.60 L304.80,301.60 L305.40,301.60 L306.00,299.69 L306.60,299.88 L307.20,299.49 L307.80,299.85 L308.40,299.18 L309.00,299.76 L309.60,299.18 L310.20,296.34 L310.80,299.39 L311.40,299.40 L312.00,299.77 L312.60,299.92 L313.20,299.96 L313.80,299.38 L314.40,299.82 L315.00,299.76 L315.60,298.99 L316.20,298.89 L316.80,299.93 L317.40,299.45 L318.00,299.61 L318.60,299.44 L319.20,299.48 L319.80,299.98 L320.40,298.99 L321.00,299.46 L321.60,299.11 L322.20,299.77 L322.80,299.38 L323.40,298.93 L324.00,299.15 L324.60,298.97 L325.20,299.51 L325.80,295.60 L326.40,295.60 L327.00,298.91 L327.60,299.11 L328.20,299.02 L328.80,298.92 L329.40,299.17 L330.00,299.08 L330.60,299.51 L331.20,299.92 L331.80,295.60 L332.40,295.60 L333.00,299.25 L333.60,299.72 L334.20,299.20 L334.80,299.21 L335.40,299.36 L336.00,296.30 L336.60,299.23 L337.20,299.09 L337.80,299.97 L338.40,299.11 L339.00,299.52 L339.60,299.94 L340.20,299.55 L340.80,299.70 L341.40,299.34 L342.00,296.34 L342.60,299.32 L343.20,299.23 L343.80,299.91 L344.40,299.09 L345.00,298.88 L345.60,299.81 L346.20,299.80 L346.80,299.27 L347.40,296.37 L348.00,299.37 L348.60,299.28 L349.20,299.66 L349.80,299.33 L350.40,299.14 L351.00,299.98 L351.60,299.71 L352.20,299.81 L352.80,299.53 L353.40,299.10 L354.00,296.31 L354.60,296.37 L355.20,298.91 L355.80,299.43 L356.40,299.71 L357.00,298.88 L357.60,299.13 L358.20,296.33 L358.80,299.28 L359.40,299.25 L360.00,299.76 L360.60,299.94 L361.20,299.85 L361.80,299.20 L362.40,299.69 L363.00,299.50 L363.60,299.07 L364.20,296.30 L364.80,299.12 L365.40,299.86 L366.00,299.06 L366.60,299.25 L367.20,299.67 L367.80,299.32 L368.40,299.24 L369.00,299.77 L369.60,299.70 L370.20,298.90 L370.80,299.95 L371.40,299.67 L372.00,299.25 L372.60,299.88 L373.20,299.91 L373.80,299.19 L374.40,299.24 L375.00,299.43 L375.60,299.75 L376.20,299.11 L376.80,299.91 L377.40,299.03 L378.00,299.08 L378.60,299.74 L379.20,299.69 L379.80,299.56 L380.40,296.31 L381.00,299.34 L381.60,299.10 L382.20,299.49 L382.80,299.88 L383.40,299.91 L384.00,299.32 L384.60,299.42 L385.20,299.64 L385.80,299.91 L386.40,299.21 L387.00,299.64 L387.60,299.13 L388.20,299.66 L388.80,299.57 L389.40,299.56 L390.00,299.15 L390.60,299.32 L391.20,298.87 L391.80,299.47 L392.40,299.63 L393.00,299.52 L393.60,298.88 L394.20,299.70 L394.80,299.56 L395.00,301.60 Z" fill="#d0369c"/>
<rect x="305.60" y="293.50" width="1.00" height="8.10" fill="#d0369c"/>
<text x="196.00" y="305.30" font-size="2.6" fill="#777">[0 - 1.0]</text>
<text x="192.60" y="311.30" font-size="2.6" fill="#777">N_sorbitan.2</text>
<line x1="219.50" y1="309.80" x2="253.60" y2="309.80" stroke="#111" stroke-width="0.9"/>
<polygon points="216.8,309.8 221.5,307.8 221.5,311.8" fill="#111"/>
<text x="256.80" y="311.90" font-size="6.4" fill="#333" textLength="29.60" lengthAdjust="spacingAndGlyphs">α-satellite</text>
<line x1="290.40" y1="309.70" x2="313.50" y2="309.70" stroke="#111" stroke-width="0.9"/>
<polygon points="317.0,309.7 312.3,307.7 312.3,311.7" fill="#111"/>
<line x1="215.50" y1="316.30" x2="318.50" y2="316.30" stroke="#1d4f8c" stroke-width="2.0" stroke-dasharray="2.4 0.5"/>
<rect x="320.00" y="315.30" width="2.70" height="2.00" fill="#1d4f8c"/>
<rect x="325.40" y="304.20" width="1.60" height="1.60" fill="#1d4f8c"/>
<rect x="333.40" y="304.20" width="1.60" height="1.60" fill="#1d4f8c"/>
<rect x="335.70" y="304.20" width="1.60" height="1.60" fill="#1d4f8c"/>
<rect x="342.70" y="304.20" width="1.60" height="1.60" fill="#1d4f8c"/>
<rect x="348.40" y="304.20" width="1.60" height="1.60" fill="#1d4f8c"/>
<rect x="385.40" y="304.20" width="1.60" height="1.60" fill="#1d4f8c"/>
<rect x="388.80" y="304.20" width="1.60" height="1.60" fill="#1d4f8c"/>
<rect x="390.70" y="304.20" width="1.60" height="1.60" fill="#1d4f8c"/>
<text x="323.00" y="313.40" font-size="2.4" fill="#888">Hsat</text>
<text x="331.00" y="313.40" font-size="2.4" fill="#888">D5Z2</text>
<text x="341.00" y="313.40" font-size="2.4" fill="#888">D5Z2_1-4</text>
<text x="360.00" y="313.40" font-size="2.4" fill="#888">sat-like</text>
<text x="378.00" y="313.40" font-size="2.4" fill="#888">Hsat2</text>
<text x="399.40" y="214.80" font-size="6.45" fill="#2a2a2a">ELDR C1 RNA-seq</text>
<text x="399.40" y="227.30" font-size="6.45" fill="#2a2a2a">ELDR C3 RNA-seq</text>
<text x="399.40" y="239.80" font-size="6.45" fill="#2a2a2a">ELDR EV (ctrl) RNA-seq</text>
<text x="399.40" y="251.50" font-size="6.45" fill="#2a2a2a">ELDR ATAC-seq DARs</text>
<text x="399.40" y="263.80" font-size="6.45" fill="#2a2a2a">MLL-AF9 ChIP-seq</text>
<text x="399.40" y="275.80" font-size="6.45" fill="#2a2a2a">MLL-ChIP-seq</text>
<text x="399.40" y="287.90" font-size="6.45" fill="#2a2a2a">AF9 ChIP-seq</text>
<text x="399.40" y="299.90" font-size="6.45" fill="#2a2a2a">RUNX1 ChIP-seq</text>
<text x="399.40" y="312.30" font-size="6.45" fill="#2a2a2a">REFseq/satellite</text>
<text x="7.60" y="348.50" font-size="12.0" fill="#111" stroke="#111" stroke-width="0.45" font-weight="bold" textLength="6.80" lengthAdjust="spacingAndGlyphs">E</text>
<defs><filter id="bl2" x="-20%" y="-20%" width="140%" height="140%"><feGaussianBlur stdDeviation="2"/></filter><filter id="bl3" x="-30%" y="-30%" width="160%" height="160%"><feGaussianBlur stdDeviation="3"/></filter><filter id="bl1" x="-20%" y="-20%" width="140%" height="140%"><feGaussianBlur stdDeviation="1"/></filter><filter id="bl05" x="-50%" y="-50%" width="200%" height="200%"><feGaussianBlur stdDeviation="0.45"/></filter><clipPath id="ecl"><rect x="17.8" y="354.5" width="119" height="112.2"/></clipPath><clipPath id="ecell"><path d="M22.72,410.00 C23.66,420.23 30.95,436.61 35.30,444.30 C39.64,451.98 43.76,453.12 48.81,456.12 C53.85,459.13 60.38,461.05 65.57,462.34 C70.77,463.62 74.31,464.38 79.98,463.83 C85.65,463.28 94.90,460.74 99.58,459.05 C104.27,457.36 104.68,456.67 108.11,453.68 C111.55,450.69 116.69,446.76 120.20,441.12 C123.70,435.49 127.59,425.45 129.14,419.87 C130.69,414.29 130.07,412.09 129.50,407.62 C128.94,403.14 128.08,398.18 125.75,393.03 C123.42,387.89 119.96,381.67 115.51,376.75 C111.07,371.83 105.85,366.59 99.09,363.50 C92.34,360.41 81.77,358.77 74.99,358.21 C68.21,357.65 63.94,358.41 58.39,360.14 C52.84,361.86 46.47,364.77 41.69,368.56 C36.91,372.36 32.85,375.99 29.69,382.90 C26.53,389.80 21.79,399.76 22.72,410.00 Z"/></clipPath><linearGradient id="eband" x1="0" y1="0" x2="1" y2="0.3"><stop offset="0" stop-color="#62808a"/><stop offset="0.45" stop-color="#5a727c"/><stop offset="0.75" stop-color="#2f4c55"/><stop offset="1" stop-color="#1f3d45"/></linearGradient></defs>
<rect x="17.80" y="354.50" width="119.00" height="112.20" fill="#040506"/>
<g clip-path="url(#ecl)">
<line x1="48.00" y1="355.40" x2="48.00" y2="468.80" stroke="#12181b" stroke-width="0.4"/>
<line x1="78.00" y1="355.40" x2="78.00" y2="468.80" stroke="#12181b" stroke-width="0.4"/>
<line x1="108.00" y1="355.40" x2="108.00" y2="468.80" stroke="#12181b" stroke-width="0.4"/>
<line x1="18.20" y1="385.00" x2="137.00" y2="385.00" stroke="#12181b" stroke-width="0.4"/>
<line x1="18.20" y1="415.00" x2="137.00" y2="415.00" stroke="#12181b" stroke-width="0.4"/>
<line x1="18.20" y1="445.00" x2="137.00" y2="445.00" stroke="#12181b" stroke-width="0.4"/>
<path d="M22.72,410.00 C23.66,420.23 30.95,436.61 35.30,444.30 C39.64,451.98 43.76,453.12 48.81,456.12 C53.85,459.13 60.38,461.05 65.57,462.34 C70.77,463.62 74.31,464.38 79.98,463.83 C85.65,463.28 94.90,460.74 99.58,459.05 C104.27,457.36 104.68,456.67 108.11,453.68 C111.55,450.69 116.69,446.76 120.20,441.12 C123.70,435.49 127.59,425.45 129.14,419.87 C130.69,414.29 130.07,412.09 129.50,407.62 C128.94,403.14 128.08,398.18 125.75,393.03 C123.42,387.89 119.96,381.67 115.51,376.75 C111.07,371.83 105.85,366.59 99.09,363.50 C92.34,360.41 81.77,358.77 74.99,358.21 C68.21,357.65 63.94,358.41 58.39,360.14 C52.84,361.86 46.47,364.77 41.69,368.56 C36.91,372.36 32.85,375.99 29.69,382.90 C26.53,389.80 21.79,399.76 22.72,410.00 Z" fill="url(#eband)"/>
<g clip-path="url(#ecell)">
<path d="M50.75,454.10 A50.5,49.995 0 0 1 101.25,367.50" fill="none" stroke="#9aaab8" stroke-width="1.4" opacity="0.55" filter="url(#bl05)"/>
<path d="M59.58,455.45 A48,47.519999999999996 0 0 1 92.42,366.15" fill="none" stroke="#3e525a" stroke-width="1.2" opacity="0.6" filter="url(#bl05)"/>
<path d="M49.90,447.70 A45.5,45.045 0 0 1 102.10,373.90" fill="none" stroke="#8e9eb0" stroke-width="1.6" opacity="0.5" filter="url(#bl05)"/>
<path d="M57.83,449.38 A43,42.57 0 0 1 87.13,369.68" fill="none" stroke="#44565e" stroke-width="1.3" opacity="0.55" filter="url(#bl05)"/>
<path d="M49.97,441.51 A40.5,40.095 0 0 1 96.25,376.08" fill="none" stroke="#8494a6" stroke-width="1.5" opacity="0.45" filter="url(#bl05)"/>
<path d="M46.89,434.98 A38,37.62 0 0 1 82.60,373.75" fill="none" stroke="#3a4c54" stroke-width="1.2" opacity="0.5" filter="url(#bl05)"/>
<path d="M100.50,368.79 A49,48.51 0 0 1 113.54,441.98" fill="none" stroke="#5a8a94" stroke-width="1.0" opacity="0.5" filter="url(#bl05)"/>
<path d="M114.11,432.58 A44,43.56 0 0 1 54.00,448.52" fill="none" stroke="#7a8c9a" stroke-width="1.6" opacity="0.45" filter="url(#bl05)"/>
<path d="M100,356 C125,368 136,395 134,420 C132,440 120,458 100,466 L140,470 L140,350 Z" fill="#16343c" opacity="0.55" filter="url(#bl3)"/>
<path d="M96,368 C108,372 116,380 120,392" fill="none" stroke="#3a8088" stroke-width="3" opacity="0.45" filter="url(#bl1)"/>
<ellipse cx="82" cy="415" rx="38" ry="37" fill="#1c2a30" opacity="0.8" filter="url(#bl3)"/>
<path d="M46,408 C44,430 58,448 82,452 C102,454 116,442 120,420" fill="none" stroke="#53676e" stroke-width="4.5" opacity="0.75" filter="url(#bl1)"/>
<path d="M52,392 C58,380 72,374 88,376" fill="none" stroke="#46585e" stroke-width="3" opacity="0.7" filter="url(#bl1)"/>
<path d="M50,400 C46,385 56,374 72,372" fill="none" stroke="#0a1114" stroke-width="3.5" opacity="0.7" filter="url(#bl1)"/>
<ellipse cx="83" cy="414" rx="33" ry="33" fill="none" stroke="#4d5f67" stroke-width="4.5" opacity="0.55" filter="url(#bl1)"/>
<ellipse cx="84" cy="415" rx="28" ry="29" fill="#04070a" filter="url(#bl2)"/>
<path d="M62,388 C72,380 92,380 104,390" fill="none" stroke="#3a4a52" stroke-width="2.5" opacity="0.6" filter="url(#bl1)"/>
<ellipse cx="60" cy="392" rx="8" ry="6" fill="#06090b" filter="url(#bl2)"/>
</g>
<path d="M22.72,410.00 C23.66,420.23 30.95,436.61 35.30,444.30 C39.64,451.98 43.76,453.12 48.81,456.12 C53.85,459.13 60.38,461.05 65.57,462.34 C70.77,463.62 74.31,464.38 79.98,463.83 C85.65,463.28 94.90,460.74 99.58,459.05 C104.27,457.36 104.68,456.67 108.11,453.68 C111.55,450.69 116.69,446.76 120.20,441.12 C123.70,435.49 127.59,425.45 129.14,419.87 C130.69,414.29 130.07,412.09 129.50,407.62 C128.94,403.14 128.08,398.18 125.75,393.03 C123.42,387.89 119.96,381.67 115.51,376.75 C111.07,371.83 105.85,366.59 99.09,363.50 C92.34,360.41 81.77,358.77 74.99,358.21 C68.21,357.65 63.94,358.41 58.39,360.14 C52.84,361.86 46.47,364.77 41.69,368.56 C36.91,372.36 32.85,375.99 29.69,382.90 C26.53,389.80 21.79,399.76 22.72,410.00 Z" fill="none" stroke="#7fbcc6" stroke-width="1.3" opacity="0.75" clip-path="url(#ecell)"/>
<path d="M35,444 C24,428 22,400 30,382 C38,368 52,360 72,358.8" fill="none" stroke="#9ad6de" stroke-width="2.4" opacity="0.75" filter="url(#bl05)" clip-path="url(#ecell)"/>
<path d="M129.5,404 C130.5,418 127,434 120,442 C114,450 106,456 96,461" fill="none" stroke="#86c6d4" stroke-width="2.2" opacity="0.7" filter="url(#bl05)" clip-path="url(#ecell)"/>
<circle cx="94.57" cy="437.17" r="0.75" fill="#f07a2c" opacity="0.90"/>
<circle cx="98.45" cy="423.27" r="0.70" fill="#5cc84e" opacity="0.78"/>
<circle cx="86.44" cy="422.36" r="0.84" fill="#5cc84e" opacity="0.65"/>
<circle cx="86.21" cy="401.44" r="0.62" fill="#f07a2c" opacity="0.95"/>
<circle cx="84.41" cy="403.66" r="0.84" fill="#5cc84e" opacity="0.93"/>
<circle cx="69.61" cy="420.16" r="1.12" fill="#f07a2c" opacity="0.73"/>
<circle cx="97.42" cy="439.24" r="1.04" fill="#f07a2c" opacity="0.61"/>
<circle cx="95.41" cy="437.69" r="0.87" fill="#e8608c" opacity="0.67"/>
<circle cx="107.45" cy="428.64" r="0.64" fill="#e83a30" opacity="0.67"/>
<circle cx="76.87" cy="408.00" r="1.02" fill="#f07a2c" opacity="0.87"/>
<circle cx="70.45" cy="416.14" r="0.91" fill="#f07a2c" opacity="0.80"/>
<circle cx="78.34" cy="429.91" r="1.09" fill="#e83a30" opacity="0.74"/>
<circle cx="78.02" cy="432.21" r="0.77" fill="#e8608c" opacity="0.77"/>
<circle cx="83.95" cy="442.86" r="0.99" fill="#e83a30" opacity="0.95"/>
<circle cx="73.21" cy="424.29" r="0.93" fill="#5cc84e" opacity="0.78"/>
<circle cx="77.32" cy="420.19" r="0.66" fill="#5cc84e" opacity="0.83"/>
<circle cx="71.41" cy="410.48" r="0.79" fill="#f4a24a" opacity="0.81"/>
<circle cx="84.21" cy="428.38" r="1.11" fill="#f07a2c" opacity="0.66"/>
<circle cx="80.15" cy="426.56" r="0.97" fill="#f07a2c" opacity="0.91"/>
<circle cx="96.86" cy="421.35" r="1.13" fill="#e83a30" opacity="0.81"/>
<circle cx="95.49" cy="416.22" r="0.97" fill="#e8608c" opacity="0.93"/>
<circle cx="86.37" cy="436.84" r="1.04" fill="#e8608c" opacity="0.87"/>
<circle cx="65.16" cy="426.01" r="1.07" fill="#f07a2c" opacity="0.83"/>
<circle cx="94.12" cy="425.64" r="0.64" fill="#e8608c" opacity="0.72"/>
<circle cx="111.39" cy="407.04" r="1.00" fill="#f07a2c" opacity="0.62"/>
<circle cx="96.20" cy="435.14" r="0.86" fill="#f07a2c" opacity="0.93"/>
<circle cx="94.47" cy="418.36" r="1.08" fill="#e83a30" opacity="0.81"/>
<circle cx="73.03" cy="429.91" r="0.86" fill="#e83a30" opacity="0.65"/>
<circle cx="80.88" cy="421.11" r="0.61" fill="#f07a2c" opacity="0.84"/>
<circle cx="88.30" cy="423.38" r="0.78" fill="#5cc84e" opacity="0.69"/>
<circle cx="97.06" cy="421.13" r="0.82" fill="#f07a2c" opacity="0.94"/>
<circle cx="90.88" cy="421.01" r="0.82" fill="#f07a2c" opacity="0.67"/>
<circle cx="73.85" cy="410.35" r="1.08" fill="#f07a2c" opacity="0.83"/>
<circle cx="95.58" cy="432.88" r="0.82" fill="#f4a24a" opacity="0.91"/>
<circle cx="80.96" cy="419.63" r="0.81" fill="#e83a30" opacity="0.85"/>
<circle cx="82.78" cy="423.05" r="0.88" fill="#f07a2c" opacity="0.86"/>
<circle cx="109.73" cy="432.02" r="0.86" fill="#e8608c" opacity="0.62"/>
<circle cx="86.60" cy="417.82" r="0.73" fill="#f07a2c" opacity="0.94"/>
<circle cx="71.63" cy="413.84" r="0.81" fill="#e83a30" opacity="0.71"/>
<circle cx="93.47" cy="419.12" r="1.04" fill="#5cc84e" opacity="0.77"/>
<circle cx="73.61" cy="418.44" r="0.88" fill="#f07a2c" opacity="0.86"/>
<circle cx="95.28" cy="422.23" r="0.94" fill="#f07a2c" opacity="0.87"/>
<circle cx="91.65" cy="436.86" r="1.14" fill="#f4a24a" opacity="0.72"/>
<circle cx="71.58" cy="452.75" r="1.08" fill="#f07a2c" opacity="0.83"/>
<circle cx="72.01" cy="411.04" r="0.88" fill="#e8608c" opacity="0.93"/>
<circle cx="78.66" cy="409.85" r="0.88" fill="#e8608c" opacity="0.74"/>
<circle cx="79.59" cy="428.15" r="0.96" fill="#f07a2c" opacity="0.61"/>
<circle cx="83.65" cy="437.17" r="1.00" fill="#e8608c" opacity="0.76"/>
<circle cx="86.92" cy="433.83" r="0.73" fill="#e8608c" opacity="0.92"/>
<circle cx="84.28" cy="421.72" r="0.87" fill="#e83a30" opacity="0.85"/>
<circle cx="100.78" cy="412.96" r="0.95" fill="#f07a2c" opacity="0.82"/>
<circle cx="84.22" cy="410.46" r="0.98" fill="#e83a30" opacity="0.69"/>
<circle cx="95.41" cy="419.06" r="0.81" fill="#5cc84e" opacity="0.78"/>
<circle cx="80.21" cy="402.74" r="0.77" fill="#e83a30" opacity="0.71"/>
<circle cx="81.22" cy="427.54" r="0.70" fill="#5cc84e" opacity="0.78"/>
<circle cx="78.22" cy="417.36" r="0.85" fill="#f07a2c" opacity="0.64"/>
<circle cx="102.51" cy="419.74" r="0.97" fill="#e83a30" opacity="0.73"/>
<circle cx="79.80" cy="420.82" r="1.12" fill="#f07a2c" opacity="0.71"/>
<circle cx="85.43" cy="443.32" r="1.09" fill="#e83a30" opacity="0.78"/>
<circle cx="87.22" cy="439.23" r="0.81" fill="#f07a2c" opacity="0.93"/>
<circle cx="74.46" cy="426.21" r="0.97" fill="#5cc84e" opacity="0.83"/>
<circle cx="78.41" cy="411.88" r="0.70" fill="#f07a2c" opacity="0.94"/>
<circle cx="105.59" cy="427.91" r="0.99" fill="#e83a30" opacity="0.61"/>
<circle cx="82.89" cy="423.98" r="0.84" fill="#5cc84e" opacity="0.76"/>
<circle cx="112.17" cy="422.62" r="0.65" fill="#e83a30" opacity="0.71"/>
<circle cx="63.64" cy="430.03" r="0.69" fill="#f4a24a" opacity="0.80"/>
<circle cx="95.96" cy="418.41" r="0.63" fill="#e83a30" opacity="0.67"/>
<circle cx="74.57" cy="431.26" r="0.92" fill="#e83a30" opacity="0.89"/>
<circle cx="75.35" cy="418.31" r="0.61" fill="#e83a30" opacity="0.80"/>
<circle cx="106.64" cy="434.38" r="1.14" fill="#f07a2c" opacity="0.83"/>
<circle cx="93.44" cy="433.58" r="0.93" fill="#5cc84e" opacity="0.82"/>
<circle cx="66.59" cy="427.24" r="0.68" fill="#f4a24a" opacity="0.65"/>
<circle cx="82.28" cy="437.89" r="1.09" fill="#f07a2c" opacity="0.62"/>
<circle cx="98.00" cy="428.94" r="1.06" fill="#f07a2c" opacity="0.73"/>
<circle cx="82.08" cy="428.76" r="0.87" fill="#5cc84e" opacity="0.84"/>
<circle cx="82.31" cy="419.18" r="0.73" fill="#f07a2c" opacity="0.73"/>
<circle cx="85.98" cy="430.66" r="1.00" fill="#e83a30" opacity="0.78"/>
<circle cx="104.17" cy="432.85" r="0.88" fill="#e83a30" opacity="0.85"/>
<circle cx="73.79" cy="415.20" r="0.70" fill="#f07a2c" opacity="0.85"/>
<circle cx="79.46" cy="424.23" r="0.84" fill="#e83a30" opacity="0.61"/>
<circle cx="78.00" cy="423.67" r="0.93" fill="#e83a30" opacity="0.64"/>
<circle cx="72.18" cy="432.59" r="1.12" fill="#f07a2c" opacity="0.88"/>
<circle cx="107.22" cy="414.93" r="0.93" fill="#50c878" opacity="0.86"/>
<circle cx="68.84" cy="398.26" r="0.88" fill="#e83a30" opacity="0.74"/>
<circle cx="84.89" cy="445.64" r="1.03" fill="#50c878" opacity="0.86"/>
<circle cx="100.51" cy="394.40" r="0.73" fill="#f07a2c" opacity="0.81"/>
<circle cx="57.48" cy="443.24" r="0.92" fill="#e8608c" opacity="0.95"/>
<circle cx="118.20" cy="389.32" r="1.14" fill="#5cc84e" opacity="0.86"/>
<circle cx="78.90" cy="391.81" r="0.89" fill="#e83a30" opacity="0.91"/>
<circle cx="63.94" cy="411.59" r="0.96" fill="#f4a24a" opacity="0.81"/>
<circle cx="48.44" cy="420.15" r="0.96" fill="#f4a24a" opacity="0.69"/>
<circle cx="54.40" cy="425.02" r="0.86" fill="#f07a2c" opacity="0.61"/>
<circle cx="93.17" cy="396.82" r="0.92" fill="#e8608c" opacity="0.88"/>
<circle cx="76.68" cy="373.82" r="0.81" fill="#e83a30" opacity="0.74"/>
<circle cx="117.48" cy="413.88" r="0.92" fill="#50c878" opacity="0.95"/>
<circle cx="87.18" cy="433.72" r="1.05" fill="#e83a30" opacity="0.77"/>
<circle cx="106.34" cy="422.48" r="0.87" fill="#e83a30" opacity="0.76"/>
<circle cx="51.98" cy="436.34" r="1.08" fill="#f07a2c" opacity="0.86"/>
<circle cx="63.73" cy="429.28" r="1.04" fill="#f07a2c" opacity="0.92"/>
<circle cx="93.39" cy="453.18" r="1.01" fill="#f07a2c" opacity="0.69"/>
<circle cx="107.32" cy="442.05" r="0.66" fill="#50c878" opacity="0.82"/>
<circle cx="59.95" cy="386.82" r="0.87" fill="#e83a30" opacity="0.85"/>
<circle cx="87.64" cy="450.34" r="1.11" fill="#e8608c" opacity="0.78"/>
<circle cx="122.16" cy="415.43" r="0.63" fill="#50c878" opacity="0.84"/>
<circle cx="66.17" cy="421.34" r="0.61" fill="#e83a30" opacity="0.85"/>
<circle cx="54.62" cy="395.83" r="0.90" fill="#e83a30" opacity="0.79"/>
<circle cx="73.88" cy="415.76" r="0.68" fill="#e8608c" opacity="0.74"/>
<circle cx="45.27" cy="425.83" r="0.92" fill="#e83a30" opacity="0.75"/>
<circle cx="84.67" cy="455.21" r="1.06" fill="#f07a2c" opacity="0.87"/>
<circle cx="112.53" cy="390.05" r="0.87" fill="#e8608c" opacity="0.66"/>
<circle cx="87.99" cy="387.94" r="0.76" fill="#e8608c" opacity="0.94"/>
<circle cx="60.09" cy="418.54" r="0.94" fill="#5cc84e" opacity="0.90"/>
<circle cx="82.79" cy="428.12" r="0.95" fill="#e83a30" opacity="0.82"/>
<circle cx="91.64" cy="424.25" r="0.90" fill="#f4a24a" opacity="0.63"/>
<circle cx="81.67" cy="448.57" r="0.73" fill="#f07a2c" opacity="0.75"/>
<circle cx="90.65" cy="369.97" r="0.82" fill="#5cc84e" opacity="0.94"/>
<circle cx="93.25" cy="377.25" r="0.62" fill="#d04a3a" opacity="0.77"/>
<circle cx="111.36" cy="387.53" r="0.70" fill="#f07a2c" opacity="0.92"/>
<circle cx="119.62" cy="434.71" r="1.00" fill="#f07a2c" opacity="0.79"/>
<circle cx="93.82" cy="436.03" r="0.96" fill="#f07a2c" opacity="0.74"/>
<circle cx="83.36" cy="402.91" r="0.92" fill="#50c878" opacity="0.77"/>
<circle cx="87.33" cy="397.57" r="0.77" fill="#e83a30" opacity="0.74"/>
<circle cx="75.33" cy="450.57" r="0.63" fill="#f4a24a" opacity="0.86"/>
<circle cx="95.39" cy="383.88" r="0.95" fill="#f07a2c" opacity="0.77"/>
<circle cx="53.98" cy="403.37" r="0.63" fill="#f4a24a" opacity="0.82"/>
<circle cx="56.41" cy="393.92" r="0.83" fill="#5cc84e" opacity="0.67"/>
<circle cx="100.87" cy="417.22" r="0.61" fill="#e8608c" opacity="0.87"/>
<circle cx="106.60" cy="376.50" r="1.01" fill="#f4a24a" opacity="0.78"/>
<circle cx="62.74" cy="430.17" r="0.98" fill="#e83a30" opacity="0.77"/>
<circle cx="59.43" cy="451.25" r="0.76" fill="#e83a30" opacity="0.86"/>
<circle cx="66.99" cy="375.77" r="1.08" fill="#f07a2c" opacity="0.69"/>
<circle cx="106.32" cy="412.46" r="1.05" fill="#d04a3a" opacity="0.87"/>
<circle cx="78.64" cy="405.45" r="1.10" fill="#50c878" opacity="0.67"/>
<circle cx="120.09" cy="409.06" r="1.03" fill="#f4a24a" opacity="0.91"/>
<circle cx="112.75" cy="387.13" r="0.87" fill="#f4a24a" opacity="0.85"/>
<circle cx="34.88" cy="409.06" r="0.81" fill="#d04a3a" opacity="0.93"/>
<circle cx="84.15" cy="380.11" r="0.68" fill="#5cc84e" opacity="0.60"/>
<circle cx="105.91" cy="430.03" r="0.63" fill="#f07a2c" opacity="0.82"/>
<circle cx="105.15" cy="434.16" r="0.96" fill="#50c878" opacity="0.91"/>
<circle cx="69.65" cy="451.93" r="0.66" fill="#e83a30" opacity="0.72"/>
<circle cx="67.47" cy="372.88" r="0.85" fill="#50c878" opacity="0.92"/>
<circle cx="97.41" cy="396.94" r="0.67" fill="#e8608c" opacity="0.72"/>
<circle cx="105.14" cy="402.35" r="1.05" fill="#e83a30" opacity="0.70"/>
<circle cx="80.58" cy="410.29" r="0.62" fill="#e8608c" opacity="0.88"/>
<circle cx="68.60" cy="382.37" r="1.04" fill="#5cc84e" opacity="0.66"/>
<circle cx="49.31" cy="397.80" r="1.07" fill="#e83a30" opacity="0.82"/>
<circle cx="99.57" cy="448.03" r="0.70" fill="#f07a2c" opacity="0.86"/>
<circle cx="57.61" cy="426.75" r="0.81" fill="#d04a3a" opacity="0.88"/>
<circle cx="67.28" cy="455.44" r="0.73" fill="#5cc84e" opacity="0.71"/>
<circle cx="69.88" cy="441.54" r="1.15" fill="#f4a24a" opacity="0.63"/>
<circle cx="123.00" cy="403.27" r="0.99" fill="#f07a2c" opacity="0.93"/>
<circle cx="95.86" cy="448.64" r="1.14" fill="#f07a2c" opacity="0.91"/>
<circle cx="91.38" cy="405.94" r="0.87" fill="#e83a30" opacity="0.92"/>
<circle cx="97.00" cy="442.54" r="0.94" fill="#f07a2c" opacity="0.60"/>
<circle cx="84.71" cy="367.52" r="0.68" fill="#e83a30" opacity="0.82"/>
<circle cx="72.12" cy="404.61" r="0.65" fill="#f07a2c" opacity="0.74"/>
<circle cx="122.52" cy="408.63" r="0.87" fill="#f07a2c" opacity="0.69"/>
<circle cx="46.31" cy="398.24" r="0.77" fill="#f4a24a" opacity="0.92"/>
<circle cx="107.62" cy="447.36" r="0.91" fill="#e8608c" opacity="0.87"/>
<circle cx="49.03" cy="437.84" r="0.89" fill="#e8608c" opacity="0.62"/>
<circle cx="98.19" cy="422.84" r="0.85" fill="#f4a24a" opacity="0.77"/>
<circle cx="57.50" cy="410.78" r="0.86" fill="#e83a30" opacity="0.87"/>
<circle cx="69.87" cy="389.24" r="0.89" fill="#f07a2c" opacity="0.86"/>
<circle cx="50.24" cy="380.17" r="0.71" fill="#50c878" opacity="0.66"/>
<circle cx="36.41" cy="401.58" r="0.65" fill="#e83a30" opacity="0.85"/>
<circle cx="76.16" cy="452.66" r="0.93" fill="#d04a3a" opacity="0.69"/>
<circle cx="66.43" cy="412.83" r="1.07" fill="#f07a2c" opacity="0.80"/>
<circle cx="122.35" cy="430.56" r="0.98" fill="#e83a30" opacity="0.78"/>
<circle cx="37.30" cy="397.85" r="0.95" fill="#f4a24a" opacity="0.84"/>
<circle cx="122.34" cy="412.08" r="0.74" fill="#d04a3a" opacity="0.84"/>
<circle cx="74.84" cy="415.38" r="1.13" fill="#50c878" opacity="0.75"/>
<circle cx="108.99" cy="389.56" r="1.11" fill="#50c878" opacity="0.82"/>
<circle cx="100.12" cy="387.79" r="0.63" fill="#f4a24a" opacity="0.73"/>
<circle cx="61.11" cy="432.10" r="0.88" fill="#d04a3a" opacity="0.69"/>
<circle cx="103.21" cy="449.84" r="0.66" fill="#e83a30" opacity="0.83"/>
<circle cx="95.86" cy="402.48" r="0.77" fill="#e83a30" opacity="0.78"/>
<circle cx="111.24" cy="395.58" r="1.13" fill="#5cc84e" opacity="0.90"/>
<circle cx="37.66" cy="418.08" r="0.69" fill="#e83a30" opacity="0.74"/>
<circle cx="93.47" cy="384.72" r="1.14" fill="#5cc84e" opacity="0.65"/>
<circle cx="106.13" cy="401.97" r="0.69" fill="#f07a2c" opacity="0.88"/>
<circle cx="68.25" cy="423.59" r="0.95" fill="#f4a24a" opacity="0.89"/>
<circle cx="116.97" cy="439.60" r="0.66" fill="#5cc84e" opacity="0.73"/>
<circle cx="60.47" cy="385.06" r="0.75" fill="#f07a2c" opacity="0.88"/>
<circle cx="89.20" cy="407.59" r="0.92" fill="#e83a30" opacity="0.65"/>
<circle cx="66.37" cy="411.59" r="0.85" fill="#f07a2c" opacity="0.74"/>
<circle cx="49.62" cy="422.54" r="1.09" fill="#50c878" opacity="0.88"/>
<circle cx="48.65" cy="432.51" r="1.02" fill="#5cc84e" opacity="0.86"/>
<circle cx="59.83" cy="402.81" r="0.75" fill="#50c878" opacity="0.88"/>
<circle cx="43.59" cy="431.07" r="0.81" fill="#d04a3a" opacity="0.72"/>
<circle cx="121.24" cy="398.39" r="0.77" fill="#f4a24a" opacity="0.89"/>
<circle cx="71.09" cy="453.80" r="0.61" fill="#f07a2c" opacity="0.82"/>
<circle cx="92.06" cy="411.59" r="1.10" fill="#f07a2c" opacity="0.93"/>
<circle cx="39.86" cy="420.81" r="0.78" fill="#d04a3a" opacity="0.68"/>
<circle cx="77.56" cy="453.62" r="0.70" fill="#e83a30" opacity="0.86"/>
<circle cx="104.82" cy="426.07" r="0.89" fill="#d04a3a" opacity="0.94"/>
<circle cx="47.89" cy="410.28" r="1.01" fill="#e83a30" opacity="0.65"/>
<circle cx="89.64" cy="385.58" r="0.71" fill="#f07a2c" opacity="0.88"/>
<circle cx="85.63" cy="454.22" r="0.69" fill="#5cc84e" opacity="0.86"/>
<circle cx="113.76" cy="424.29" r="0.91" fill="#f4a24a" opacity="0.92"/>
<circle cx="77.26" cy="426.77" r="1.08" fill="#50c878" opacity="0.87"/>
</g>
<rect x="58.8" y="387.7" width="10.3" height="9.9" fill="none" stroke="#f4f4f4" stroke-width="0.9" stroke-dasharray="1.6 1.0"/>
<text x="70.10" y="396.70" font-size="9.6" fill="#ffffff" font-weight="bold" letter-spacing="0.5">ii</text>
<rect x="103.3" y="404.2" width="10.4" height="10.3" fill="none" stroke="#f4f4f4" stroke-width="0.9" stroke-dasharray="1.6 1.0"/>
<text x="114.70" y="413.60" font-size="9.6" fill="#ffffff" font-weight="bold" letter-spacing="0.5">iii</text>
<rect x="101.9" y="418.2" width="10.1" height="10.3" fill="none" stroke="#f4f4f4" stroke-width="0.9" stroke-dasharray="1.6 1.0"/>
<text x="113.00" y="427.60" font-size="9.6" fill="#ffffff" font-weight="bold" letter-spacing="0.5">i</text>
<rect x="40.0" y="430.0" width="10.3" height="9.8" fill="none" stroke="#f4f4f4" stroke-width="0.9" stroke-dasharray="1.6 1.0"/>
<text x="51.30" y="438.90" font-size="9.6" fill="#ffffff" font-weight="bold" letter-spacing="0.5">iv</text>
<rect x="72.1" y="449.2" width="10.6" height="10.6" fill="none" stroke="#f4f4f4" stroke-width="0.9" stroke-dasharray="1.6 1.0"/>
<text x="83.70" y="458.90" font-size="9.6" fill="#ffffff" font-weight="bold" letter-spacing="0.5">v</text>
<line x1="21.80" y1="463.30" x2="35.90" y2="463.30" stroke="#ffffff" stroke-width="1.1"/>
<text x="23.50" y="461.00" font-size="4.6" fill="#e8e8e8" textLength="10.40" lengthAdjust="spacingAndGlyphs">2 μm</text>
<circle cx="59.20" cy="484.20" r="3.90" fill="url(#g3aa03a)"/>
<text x="66.90" y="486.50" font-size="6.3" fill="#4a9a40" textLength="33.10" lengthAdjust="spacingAndGlyphs">Centromere</text>
<circle cx="59.20" cy="496.50" r="3.90" fill="url(#gf06a28)"/>
<text x="66.90" y="498.80" font-size="6.3" fill="#e0703a" textLength="16.10" lengthAdjust="spacingAndGlyphs">ELDR</text>
<circle cx="59.20" cy="508.80" r="3.90" fill="url(#ge4202a)"/>
<text x="66.90" y="511.10" font-size="6.3" fill="#d02838" textLength="25.40" lengthAdjust="spacingAndGlyphs">MLL-AF9</text>
<text x="152.60" y="349.40" font-size="12.2" fill="#111" stroke="#111" stroke-width="0.45" font-weight="bold">F</text>
<defs><clipPath id="fi"><rect x="162.6" y="354.5" width="114.10" height="55.20"/></clipPath><clipPath id="fii"><rect x="162.9" y="411.6" width="56.10" height="55.40"/></clipPath><clipPath id="fiii"><rect x="220.9" y="411.6" width="55.80" height="55.40"/></clipPath><clipPath id="fiv"><rect x="162.9" y="469.0" width="56.10" height="54.80"/></clipPath><clipPath id="fv"><rect x="220.9" y="469.0" width="55.80" height="54.80"/></clipPath></defs>
<rect x="162.60" y="354.50" width="114.10" height="55.20" fill="#050607"/>
<g clip-path="url(#fi)">
<path d="M224,354 C240,370 246,395 240,410 L277,410 L277,354 Z" fill="#1e2e36" filter="url(#bl2)"/>
<path d="M250,354 C262,372 263,392 256,410 L277,410 L277,354 Z" fill="#5f808c" filter="url(#bl1)"/>
<path d="M260,356 C270,374 270,395 264,410 L277,410 L277,356 Z" fill="#7fa2b2" opacity="0.85" filter="url(#bl1)"/>
<path d="M250,354 C257,372 256,392 249,410" fill="none" stroke="#0a1014" stroke-width="3.2" filter="url(#bl1)"/>
<path d="M217,354 L217,410 L246,410 C254,392 252,370 244,354 Z" fill="#2a3c44" filter="url(#bl1)"/>
<path d="M222,358 C238,362 244,380 240,405" fill="none" stroke="#3e5660" stroke-width="4" opacity="0.6" filter="url(#bl1)"/>
<line x1="217.20" y1="354.50" x2="217.20" y2="409.70" stroke="#5a6a70" stroke-width="0.6"/>
<ellipse cx="176" cy="381" rx="8" ry="2.4" fill="#3a3d43" opacity="0.85" transform="rotate(58 176 381)" filter="url(#bl05)"/>
<ellipse cx="184" cy="372" rx="7" ry="2.2" fill="#3a3d43" opacity="0.85" transform="rotate(55 184 372)" filter="url(#bl05)"/>
<ellipse cx="181" cy="394" rx="8" ry="2.6" fill="#3a3d43" opacity="0.85" transform="rotate(60 181 394)" filter="url(#bl05)"/>
<ellipse cx="191" cy="386" rx="9" ry="2.6" fill="#3a3d43" opacity="0.85" transform="rotate(57 191 386)" filter="url(#bl05)"/>
<ellipse cx="199" cy="377" rx="8" ry="2.4" fill="#3a3d43" opacity="0.85" transform="rotate(62 199 377)" filter="url(#bl05)"/>
<ellipse cx="196" cy="399" rx="8" ry="2.4" fill="#3a3d43" opacity="0.85" transform="rotate(58 196 399)" filter="url(#bl05)"/>
<ellipse cx="206" cy="391" rx="8" ry="2.4" fill="#3a3d43" opacity="0.85" transform="rotate(64 206 391)" filter="url(#bl05)"/>
<ellipse cx="211" cy="379" rx="7" ry="2.2" fill="#3a3d43" opacity="0.85" transform="rotate(70 211 379)" filter="url(#bl05)"/>
<ellipse cx="188" cy="404" rx="6" ry="2" fill="#3a3d43" opacity="0.85" transform="rotate(55 188 404)" filter="url(#bl05)"/>
<ellipse cx="204" cy="404" rx="6" ry="2.2" fill="#3a3d43" opacity="0.85" transform="rotate(60 204 404)" filter="url(#bl05)"/>
<ellipse cx="170" cy="392" rx="6" ry="2.2" fill="#3a3d43" opacity="0.85" transform="rotate(50 170 392)" filter="url(#bl05)"/>
<path d="M186,372 C190,366 200,358 205,360 C210,363 206,368 198,369 C192,370 190,372 188,373" fill="none" stroke="#7fb4c0" stroke-width="0.9" opacity="0.8"/>
<circle cx="175" cy="360.5" r="3" fill="none" stroke="#6a9aa8" stroke-width="0.8" opacity="0.8"/>
<circle cx="192.20" cy="357.40" r="2.60" fill="url(#gf08a30)"/>
<circle cx="189.00" cy="361.00" r="2.00" fill="url(#gf0a030)"/>
<circle cx="185.60" cy="367.50" r="2.60" fill="url(#gf08a30)"/>
<circle cx="206.50" cy="357.40" r="2.00" fill="url(#gd82830)"/>
<circle cx="215.40" cy="357.20" r="2.60" fill="url(#gd82830)"/>
<circle cx="177.90" cy="393.10" r="3.60" fill="url(#ge02828)"/>
<circle cx="172.50" cy="402.00" r="3.00" fill="url(#gf08a30)"/>
<circle cx="167.60" cy="402.50" r="2.20" fill="url(#g9040c0)"/>
<circle cx="200.00" cy="400.90" r="2.60" fill="url(#ge02828)"/>
<circle cx="196.40" cy="406.80" r="2.60" fill="url(#ge02828)"/>
<circle cx="205.90" cy="407.40" r="3.20" fill="url(#g40c040)"/>
<circle cx="213.00" cy="408.00" r="2.20" fill="url(#gf0a060)"/>
<circle cx="201.00" cy="372.00" r="1.20" fill="url(#g50c060)"/>
<circle cx="180.00" cy="377.00" r="1.00" fill="url(#gb0b0b0)"/>
<circle cx="228.80" cy="368.30" r="3.00" fill="url(#gf08a30)"/>
<circle cx="243.00" cy="378.50" r="2.60" fill="url(#gf07a30)"/>
<circle cx="246.50" cy="378.50" r="2.60" fill="url(#gf07a30)"/>
<circle cx="229.00" cy="378.00" r="2.70" fill="url(#g8050d0)"/>
<circle cx="223.50" cy="381.00" r="2.50" fill="url(#ge02838)"/>
<circle cx="224.00" cy="386.00" r="2.30" fill="url(#ge02838)"/>
<circle cx="222.00" cy="391.00" r="2.70" fill="url(#g8040c0)"/>
<circle cx="226.00" cy="393.00" r="2.50" fill="url(#g3070e0)"/>
<circle cx="232.50" cy="396.00" r="2.50" fill="url(#gf08050)"/>
<circle cx="238.00" cy="401.00" r="2.20" fill="url(#gf06a60)"/>
<circle cx="246.00" cy="399.00" r="2.40" fill="url(#gf07a30)"/>
<circle cx="234.00" cy="372.00" r="1.60" fill="url(#g40c060)"/>
<circle cx="234.00" cy="382.00" r="1.60" fill="url(#g40c060)"/>
<circle cx="226.00" cy="361.00" r="1.50" fill="url(#g40b0d0)"/>
<circle cx="230.00" cy="359.50" r="1.50" fill="url(#g40b0d0)"/>
<circle cx="259.50" cy="374.00" r="1.40" fill="url(#g40c060)"/>
<circle cx="264.00" cy="396.00" r="1.60" fill="url(#g40c060)"/>
<circle cx="268.00" cy="396.00" r="1.60" fill="url(#g40c060)"/>
<circle cx="264.00" cy="389.00" r="1.50" fill="url(#g40b0d0)"/>
<circle cx="220.00" cy="403.00" r="1.40" fill="url(#g40c060)"/>
<circle cx="255.00" cy="405.00" r="1.50" fill="url(#g40c060)"/>
<circle cx="210.00" cy="356.00" r="1.40" fill="url(#gd02828)"/>
</g>
<rect x="162.90" y="411.60" width="56.10" height="55.40" fill="#040506"/>
<g clip-path="url(#fii)">
<path d="M162,444 C180,440 200,446 220,440 L220,468 L162,468 Z" fill="#2f4a50" filter="url(#bl1)"/>
<path d="M162,452 C178,448 196,452 220,447" fill="none" stroke="#4d6a70" stroke-width="2" filter="url(#bl1)"/>
<path d="M180,446 C192,442 206,442 220,436" fill="none" stroke="#3e4a54" stroke-width="1.5" opacity="0.8"/>
<path d="M200,468 C206,458 212,455 220,452 L220,468 Z" fill="#3a5860" filter="url(#bl1)"/>
<path d="M162,420 L176,426 L180,444 L162,446 Z" fill="#0e1a1e" filter="url(#bl2)"/>
<circle cx="165.00" cy="417.50" r="4.20" fill="url(#gf0902a)"/>
<circle cx="182.50" cy="424.00" r="3.00" fill="url(#gf08a30)"/>
<circle cx="181.50" cy="431.20" r="4.60" fill="url(#ge02424)"/>
<circle cx="193.60" cy="423.50" r="4.60" fill="url(#g3a70d8)"/>
<circle cx="189.50" cy="423.30" r="3.20" fill="url(#g8048c8)"/>
<circle cx="194.00" cy="415.20" r="3.20" fill="url(#g3a70d8)"/>
<circle cx="169.50" cy="427.20" r="1.60" fill="url(#g50c050)"/>
<circle cx="169.50" cy="432.50" r="1.60" fill="url(#g50c050)"/>
<circle cx="164.50" cy="433.00" r="3.00" fill="url(#gf08a30)"/>
<circle cx="187.60" cy="445.20" r="4.10" fill="url(#gc040c0)"/>
<circle cx="170.20" cy="450.60" r="4.20" fill="url(#g40c040)"/>
<circle cx="202.10" cy="450.20" r="4.60" fill="url(#g40c040)"/>
<circle cx="195.60" cy="447.50" r="1.60" fill="url(#g50c050)"/>
<circle cx="215.00" cy="446.20" r="1.60" fill="url(#g50c050)"/>
<circle cx="163.50" cy="441.00" r="1.50" fill="url(#g40b0d0)"/>
</g>
<rect x="220.90" y="411.60" width="55.80" height="55.40" fill="#040506"/>
<g clip-path="url(#fiii)">
<path d="M221,434 C238,428 258,432 277,446 L277,468 L221,468 Z" fill="#3a4248" filter="url(#bl1)"/>
<path d="M221,440 C234,436 250,440 262,452 C268,458 272,464 277,466 L277,468 L221,468 Z" fill="#485058" filter="url(#bl1)"/>
<path d="M221,440 C232,440 242,448 246,468 L221,468 Z" fill="#3e5e68" filter="url(#bl1)"/>
<path d="M224,437 C240,433 256,438 270,452" fill="none" stroke="#6a7078" stroke-width="1.2" opacity="0.7"/>
<circle cx="247.00" cy="418.20" r="3.20" fill="url(#gf08a30)"/>
<circle cx="250.50" cy="426.60" r="3.00" fill="url(#gf08a30)"/>
<circle cx="267.50" cy="416.50" r="2.70" fill="url(#g40c040)"/>
<circle cx="265.20" cy="428.10" r="2.60" fill="url(#g40c040)"/>
<circle cx="265.20" cy="433.50" r="2.60" fill="url(#g40c040)"/>
<circle cx="244.00" cy="437.60" r="4.20" fill="url(#g38b8d8)"/>
<circle cx="251.20" cy="437.00" r="4.20" fill="url(#g40c040)"/>
<circle cx="240.50" cy="446.60" r="4.60" fill="url(#g38b8d8)"/>
<circle cx="249.50" cy="445.50" r="4.10" fill="url(#g40c040)"/>
<circle cx="271.80" cy="451.20" r="4.60" fill="url(#g40c040)"/>
<circle cx="270.50" cy="460.20" r="4.60" fill="url(#g40c040)"/>
<circle cx="231.00" cy="423.00" r="1.80" fill="url(#g40c040)"/>
</g>
<rect x="162.90" y="469.00" width="56.10" height="54.80" fill="#3b5963"/>
<g clip-path="url(#fiv)">
<path d="M202,468 L220,468 L220,480 C214,476 208,472 202,468 Z" fill="#050607" filter="url(#bl05)"/>
<path d="M162,508 C170,514 178,519 188,525 L162,525 Z" fill="#050607" filter="url(#bl05)"/>
<path d="M165,470 C180,485 190,500 200,522" fill="none" stroke="#2b444c" stroke-width="1.3" opacity="0.55" filter="url(#bl05)"/>
<path d="M174,471 C189,487 199,502 209,522" fill="none" stroke="#2b444c" stroke-width="1.3" opacity="0.55" filter="url(#bl05)"/>
<path d="M183,472 C198,489 208,504 218,522" fill="none" stroke="#2b444c" stroke-width="1.3" opacity="0.55" filter="url(#bl05)"/>
<path d="M192,473 C207,491 217,506 227,522" fill="none" stroke="#2b444c" stroke-width="1.3" opacity="0.55" filter="url(#bl05)"/>
<path d="M201,474 C216,493 226,508 236,522" fill="none" stroke="#2b444c" stroke-width="1.3" opacity="0.55" filter="url(#bl05)"/>
<path d="M210,475 C225,495 235,510 245,522" fill="none" stroke="#2b444c" stroke-width="1.3" opacity="0.55" filter="url(#bl05)"/>
<path d="M170,505 C185,510 200,516 219,520" fill="none" stroke="#5a7078" stroke-width="3" opacity="0.5" filter="url(#bl1)"/>
<path d="M165,478 C185,482 205,500 219,512" fill="none" stroke="#6a8a94" stroke-width="1.2" opacity="0.5"/>
<circle cx="200.00" cy="479.50" r="3.00" fill="url(#gf08a30)"/>
<circle cx="178.00" cy="485.50" r="2.20" fill="url(#gf0a050)"/>
<circle cx="190.00" cy="492.00" r="2.60" fill="url(#g40c040)"/>
<circle cx="176.00" cy="496.00" r="1.80" fill="url(#g40c8e0)"/>
<circle cx="180.00" cy="499.00" r="3.00" fill="url(#g40c040)"/>
<circle cx="172.00" cy="500.00" r="2.60" fill="url(#gc040c0)"/>
<circle cx="207.00" cy="480.00" r="1.60" fill="url(#g40c040)"/>
<circle cx="205.00" cy="472.00" r="1.40" fill="url(#g40c040)"/>
<circle cx="215.00" cy="473.00" r="1.50" fill="url(#g40c040)"/>
<circle cx="211.00" cy="475.00" r="1.20" fill="url(#g40c040)"/>
</g>
<rect x="220.90" y="469.00" width="55.80" height="54.80" fill="#3a5860"/>
<g clip-path="url(#fv)">
<path d="M250,468 L277,468 L277,480 C268,476 260,472 250,468 Z" fill="#0a0e10" filter="url(#bl1)"/>
<path d="M255,485 C262,495 268,505 270,524" fill="none" stroke="#1f3038" stroke-width="3" opacity="0.7" filter="url(#bl1)"/>
<path d="M222,472 C232,488 242,505 250,524" fill="none" stroke="#25404a" stroke-width="1.4" opacity="0.7"/>
<path d="M230,472 C240,488 250,505 258,524" fill="none" stroke="#25404a" stroke-width="1.4" opacity="0.7"/>
<path d="M238,472 C248,488 258,505 266,524" fill="none" stroke="#25404a" stroke-width="1.4" opacity="0.7"/>
<path d="M246,472 C256,488 266,505 274,524" fill="none" stroke="#25404a" stroke-width="1.4" opacity="0.7"/>
<path d="M254,472 C264,488 274,505 282,524" fill="none" stroke="#25404a" stroke-width="1.4" opacity="0.7"/>
<path d="M262,472 C272,488 282,505 290,524" fill="none" stroke="#25404a" stroke-width="1.4" opacity="0.7"/>
<path d="M268,490 C272,500 274,512 277,520" fill="none" stroke="#607c86" stroke-width="3" opacity="0.6" filter="url(#bl1)"/>
<circle cx="275.24" cy="489.47" r="1.62" fill="url(#gf08a30)"/>
<circle cx="257.80" cy="473.06" r="1.10" fill="url(#ge03030)"/>
<circle cx="258.65" cy="475.46" r="1.59" fill="url(#gf0a030)"/>
<circle cx="249.93" cy="470.05" r="1.60" fill="url(#ge03030)"/>
<circle cx="251.14" cy="474.99" r="1.15" fill="url(#ge03030)"/>
<circle cx="273.71" cy="478.96" r="1.19" fill="url(#ge03030)"/>
<circle cx="275.01" cy="477.91" r="1.17" fill="url(#ge05a30)"/>
<circle cx="264.17" cy="487.88" r="1.47" fill="url(#gf08a30)"/>
<circle cx="260.90" cy="479.47" r="1.28" fill="url(#ge03030)"/>
<circle cx="272.19" cy="470.54" r="1.53" fill="url(#g40c040)"/>
<circle cx="271.40" cy="483.87" r="1.31" fill="url(#ge05a30)"/>
<circle cx="257.39" cy="478.88" r="1.25" fill="url(#gf08a30)"/>
<circle cx="257.24" cy="474.45" r="1.12" fill="url(#ge05a30)"/>
<circle cx="245.00" cy="495.50" r="2.60" fill="url(#gc040c0)"/>
<circle cx="250.20" cy="494.50" r="3.00" fill="url(#g40c0e0)"/>
<circle cx="248.20" cy="501.00" r="3.00" fill="url(#g40c040)"/>
<circle cx="253.00" cy="504.00" r="1.60" fill="url(#g40c040)"/>
<circle cx="226.00" cy="500.00" r="1.60" fill="url(#g90c040)"/>
<circle cx="225.00" cy="504.00" r="1.60" fill="url(#g5040c0)"/>
<circle cx="238.00" cy="480.00" r="1.40" fill="url(#g40c040)"/>
</g>
<text x="164.60" y="362.90" font-size="9.0" fill="#ffffff" font-weight="bold" letter-spacing="0.4">i</text>
<line x1="165.00" y1="406.90" x2="172.40" y2="406.90" stroke="#ffffff" stroke-width="1.0"/>
<text x="165.40" y="405.10" font-size="4.4" fill="#e8e8e8" textLength="8.60" lengthAdjust="spacingAndGlyphs">2 μm</text>
<text x="164.90" y="420.00" font-size="9.0" fill="#ffffff" font-weight="bold" letter-spacing="0.4">ii</text>
<line x1="165.30" y1="464.20" x2="172.70" y2="464.20" stroke="#ffffff" stroke-width="1.0"/>
<text x="165.70" y="462.40" font-size="4.4" fill="#e8e8e8" textLength="8.60" lengthAdjust="spacingAndGlyphs">2 μm</text>
<text x="222.90" y="420.00" font-size="9.0" fill="#ffffff" font-weight="bold" letter-spacing="0.4">iii</text>
<line x1="223.30" y1="464.20" x2="230.70" y2="464.20" stroke="#ffffff" stroke-width="1.0"/>
<text x="223.70" y="462.40" font-size="4.4" fill="#e8e8e8" textLength="8.60" lengthAdjust="spacingAndGlyphs">2 μm</text>
<text x="164.90" y="477.40" font-size="9.0" fill="#ffffff" font-weight="bold" letter-spacing="0.4">iv</text>
<line x1="165.30" y1="521.00" x2="172.70" y2="521.00" stroke="#ffffff" stroke-width="1.0"/>
<text x="165.70" y="519.20" font-size="4.4" fill="#e8e8e8" textLength="8.60" lengthAdjust="spacingAndGlyphs">2 μm</text>
<text x="222.90" y="477.40" font-size="9.0" fill="#ffffff" font-weight="bold" letter-spacing="0.4">v</text>
<line x1="223.30" y1="521.00" x2="230.70" y2="521.00" stroke="#ffffff" stroke-width="1.0"/>
<text x="223.70" y="519.20" font-size="4.4" fill="#e8e8e8" textLength="8.60" lengthAdjust="spacingAndGlyphs">2 μm</text>
<text x="286.90" y="375.90" font-size="6.3" fill="#3e6aa8" textLength="15.90" lengthAdjust="spacingAndGlyphs">ELDR</text>
<circle cx="310.20" cy="373.70" r="3.70" fill="url(#g3a64b8)"/>
<circle cx="316.40" cy="373.70" r="3.70" fill="url(#g7a34b0)" opacity="0.92"/>
<text x="322.80" y="375.90" font-size="6.3" fill="#8a3aa8" textLength="27.20" lengthAdjust="spacingAndGlyphs">MLL-AF9</text>
<path d="M294.6,380.4 L294.6,383.3 L336.8,383.3 L336.8,380.4" fill="none" stroke="#333" stroke-width="0.8"/>
<text x="315.30" y="392.00" font-size="6.3" fill="#333" text-anchor="middle" textLength="52.60" lengthAdjust="spacingAndGlyphs">Co-localized within</text>
<text x="315.30" y="400.10" font-size="6.3" fill="#333" text-anchor="middle">240 nm</text>
<text x="283.60" y="410.50" font-size="6.3" fill="#5aae48" textLength="32.80" lengthAdjust="spacingAndGlyphs">Centromere</text>
<ellipse cx="319.7" cy="421.9" rx="17" ry="7.1" fill="none" stroke="#222" stroke-width="0.8" stroke-dasharray="1.5 1"/>
<circle cx="310.60" cy="421.90" r="4.20" fill="url(#g2fa02f)"/>
<circle cx="328.80" cy="421.90" r="4.00" fill="url(#gc03aa8)"/>
<text x="324.60" y="436.00" font-size="6.3" fill="#c03aa8" textLength="26.10" lengthAdjust="spacingAndGlyphs">MLL-AF9</text>
<text x="283.60" y="446.00" font-size="6.3" fill="#5aae48" textLength="32.80" lengthAdjust="spacingAndGlyphs">Centromere</text>
<ellipse cx="319.7" cy="457.5" rx="17" ry="7.1" fill="none" stroke="#222" stroke-width="0.8" stroke-dasharray="1.5 1"/>
<circle cx="310.60" cy="457.50" r="4.20" fill="url(#g2fa02f)"/>
<circle cx="328.80" cy="457.50" r="4.00" fill="url(#g48b4e4)"/>
<text x="324.60" y="471.10" font-size="6.3" fill="#48a8e0" textLength="16.40" lengthAdjust="spacingAndGlyphs">ELDR</text>
<circle cx="291" cy="479.9" r="3" fill="none" stroke="#222" stroke-width="0.7" stroke-dasharray="1.2 0.9"/>
<text x="297.90" y="482.10" font-size="6.3" fill="#333" textLength="39.50" lengthAdjust="spacingAndGlyphs">within 500 nm</text>
<text x="297.90" y="488.80" font-size="6.3" fill="#333" textLength="40.10" lengthAdjust="spacingAndGlyphs">to Centromere</text>
<text x="366.40" y="348.50" font-size="12.2" fill="#111" stroke="#111" stroke-width="0.45" font-weight="bold">G</text>
<line x1="415.50" y1="339.50" x2="415.50" y2="421.40" stroke="#1a1a1a" stroke-width="1.1"/>
<line x1="413.10" y1="420.90" x2="415.50" y2="420.90" stroke="#1a1a1a" stroke-width="0.9"/>
<text x="409.40" y="423.10" font-size="6.4" fill="#222" stroke="#222" stroke-width="0.22" text-anchor="end">0</text>
<line x1="413.10" y1="394.37" x2="415.50" y2="394.37" stroke="#1a1a1a" stroke-width="0.9"/>
<text x="409.40" y="396.57" font-size="6.4" fill="#222" stroke="#222" stroke-width="0.22" text-anchor="end">20</text>
<line x1="413.10" y1="367.83" x2="415.50" y2="367.83" stroke="#1a1a1a" stroke-width="0.9"/>
<text x="409.40" y="370.03" font-size="6.4" fill="#222" stroke="#222" stroke-width="0.22" text-anchor="end">40</text>
<line x1="413.10" y1="341.30" x2="415.50" y2="341.30" stroke="#1a1a1a" stroke-width="0.9"/>
<text x="409.40" y="343.50" font-size="6.4" fill="#222" stroke="#222" stroke-width="0.22" text-anchor="end">60</text>
<line x1="415.50" y1="421.00" x2="502.70" y2="421.00" stroke="#222" stroke-width="0.9"/>
<line x1="428.50" y1="421.00" x2="428.50" y2="423.20" stroke="#222" stroke-width="0.8"/>
<line x1="455.70" y1="421.00" x2="455.70" y2="423.20" stroke="#222" stroke-width="0.8"/>
<line x1="484.60" y1="421.00" x2="484.60" y2="423.20" stroke="#222" stroke-width="0.8"/>
<rect x="451.80" y="419.80" width="8.20" height="1.20" fill="#333"/>
<rect x="477.00" y="368.20" width="15.50" height="52.70" fill="#15578a" stroke="#0f3f66" stroke-width="0.6"/>
<line x1="484.70" y1="368.20" x2="484.70" y2="358.30" stroke="#222" stroke-width="0.9"/>
<line x1="481.00" y1="358.30" x2="488.60" y2="358.30" stroke="#222" stroke-width="0.9"/>
<text x="428.40" y="433.20" font-size="6.4" fill="#222" stroke="#222" stroke-width="0.22" text-anchor="middle">mELDR</text>
<text x="428.40" y="440.10" font-size="6.4" fill="#222" stroke="#222" stroke-width="0.22" text-anchor="middle">+IgG</text>
<text x="456.00" y="433.20" font-size="6.4" fill="#222" stroke="#222" stroke-width="0.22" text-anchor="middle">ELDR</text>
<text x="456.00" y="440.10" font-size="6.4" fill="#222" stroke="#222" stroke-width="0.22" text-anchor="middle">+IgG</text>
<text x="485.00" y="433.20" font-size="6.4" fill="#222" stroke="#222" stroke-width="0.22" text-anchor="middle">ELDR</text>
<text x="485.00" y="440.10" font-size="6.4" fill="#222" stroke="#222" stroke-width="0.22" text-anchor="middle">+MLL-AF9</text>
<text x="384.60" y="381.80" font-size="6.9" fill="#222" stroke="#222" stroke-width="0.36" text-anchor="middle" textLength="31.60" lengthAdjust="spacingAndGlyphs" transform="rotate(-90 384.60 381.80)">Coloc. spots</text>
<text x="394.80" y="381.10" font-size="6.9" fill="#222" stroke="#222" stroke-width="0.36" text-anchor="middle" textLength="63.20" lengthAdjust="spacingAndGlyphs" transform="rotate(-90 394.80 381.10)">ELDR+MLL-AF9 per cell</text>
<text x="366.60" y="467.90" font-size="12.2" fill="#111" stroke="#111" stroke-width="0.45" font-weight="bold">H</text>
<line x1="415.10" y1="459.50" x2="415.10" y2="540.70" stroke="#1a1a1a" stroke-width="1.1"/>
<line x1="412.70" y1="540.20" x2="415.10" y2="540.20" stroke="#1a1a1a" stroke-width="0.9"/>
<text x="409.30" y="542.40" font-size="6.4" fill="#222" stroke="#222" stroke-width="0.22" text-anchor="end">0</text>
<line x1="412.70" y1="520.48" x2="415.10" y2="520.48" stroke="#1a1a1a" stroke-width="0.9"/>
<text x="409.30" y="522.68" font-size="6.4" fill="#222" stroke="#222" stroke-width="0.22" text-anchor="end">20</text>
<line x1="412.70" y1="500.75" x2="415.10" y2="500.75" stroke="#1a1a1a" stroke-width="0.9"/>
<text x="409.30" y="502.95" font-size="6.4" fill="#222" stroke="#222" stroke-width="0.22" text-anchor="end">40</text>
<line x1="412.70" y1="481.03" x2="415.10" y2="481.03" stroke="#1a1a1a" stroke-width="0.9"/>
<text x="409.30" y="483.23" font-size="6.4" fill="#222" stroke="#222" stroke-width="0.22" text-anchor="end">60</text>
<line x1="412.70" y1="461.30" x2="415.10" y2="461.30" stroke="#1a1a1a" stroke-width="0.9"/>
<text x="409.30" y="463.50" font-size="6.4" fill="#222" stroke="#222" stroke-width="0.22" text-anchor="end">80</text>
<line x1="415.10" y1="540.30" x2="438.20" y2="540.30" stroke="#222" stroke-width="0.9"/>
<line x1="424.00" y1="540.30" x2="424.00" y2="542.80" stroke="#222" stroke-width="0.8"/>
<line x1="433.60" y1="540.30" x2="433.60" y2="542.80" stroke="#222" stroke-width="0.8"/>
<rect x="420.10" y="501.30" width="7.50" height="38.90" fill="#8585cc"/>
<rect x="430.00" y="481.80" width="7.50" height="58.40" fill="#d0183f"/>
<line x1="423.90" y1="501.30" x2="423.90" y2="497.60" stroke="#222" stroke-width="0.9"/>
<line x1="422.20" y1="497.60" x2="425.60" y2="497.60" stroke="#222" stroke-width="0.9"/>
<line x1="433.70" y1="481.80" x2="433.70" y2="478.30" stroke="#222" stroke-width="0.9"/>
<line x1="432.00" y1="478.30" x2="435.40" y2="478.30" stroke="#222" stroke-width="0.9"/>
<rect x="444.90" y="482.80" width="6.50" height="6.50" fill="#8585cc"/>
<rect x="444.90" y="501.30" width="6.50" height="6.50" fill="#d0183f"/>
<text x="453.80" y="488.60" font-size="6.4" fill="#222" stroke="#222" stroke-width="0.22" textLength="45.00" lengthAdjust="spacingAndGlyphs">MLL-AF9 Spots</text>
<text x="453.80" y="496.30" font-size="6.4" fill="#222" stroke="#222" stroke-width="0.22">with ELDR</text>
<text x="453.80" y="507.30" font-size="6.4" fill="#222" stroke="#222" stroke-width="0.22" textLength="45.00" lengthAdjust="spacingAndGlyphs">MLL-AF9 Spots</text>
<text x="453.80" y="514.80" font-size="6.4" fill="#222" stroke="#222" stroke-width="0.22">w/o ELDR</text>
<text x="395.80" y="502.00" font-size="7.2" fill="#222" stroke="#222" stroke-width="0.36" text-anchor="middle" textLength="67.60" lengthAdjust="spacingAndGlyphs" transform="rotate(-90 395.80 502.00)">% of total MLL-AF9 spots</text>
<text x="7.20" y="570.00" font-size="12.2" fill="#111" stroke="#111" stroke-width="0.45" font-weight="bold">I</text>
<line x1="46.50" y1="581.80" x2="46.50" y2="663.00" stroke="#1a1a1a" stroke-width="1.1"/>
<line x1="44.10" y1="662.50" x2="46.50" y2="662.50" stroke="#1a1a1a" stroke-width="0.9"/>
<text x="40.40" y="664.70" font-size="6.4" fill="#222" stroke="#222" stroke-width="0.22" text-anchor="end">0</text>
<line x1="44.10" y1="643.00" x2="46.50" y2="643.00" stroke="#1a1a1a" stroke-width="0.9"/>
<text x="40.40" y="645.20" font-size="6.4" fill="#222" stroke="#222" stroke-width="0.22" text-anchor="end">1</text>
<line x1="44.10" y1="623.50" x2="46.50" y2="623.50" stroke="#1a1a1a" stroke-width="0.9"/>
<text x="40.40" y="625.70" font-size="6.4" fill="#222" stroke="#222" stroke-width="0.22" text-anchor="end">2</text>
<line x1="44.10" y1="604.00" x2="46.50" y2="604.00" stroke="#1a1a1a" stroke-width="0.9"/>
<text x="40.40" y="606.20" font-size="6.4" fill="#222" stroke="#222" stroke-width="0.22" text-anchor="end">3</text>
<line x1="44.10" y1="584.50" x2="46.50" y2="584.50" stroke="#1a1a1a" stroke-width="0.9"/>
<text x="40.40" y="586.70" font-size="6.4" fill="#222" stroke="#222" stroke-width="0.22" text-anchor="end">4</text>
<line x1="46.50" y1="662.60" x2="117.50" y2="662.60" stroke="#1a1a1a" stroke-width="1.1"/>
<line x1="57.30" y1="662.60" x2="57.30" y2="665.20" stroke="#222" stroke-width="0.8"/>
<line x1="81.90" y1="662.60" x2="81.90" y2="665.20" stroke="#222" stroke-width="0.8"/>
<line x1="106.50" y1="662.60" x2="106.50" y2="665.20" stroke="#222" stroke-width="0.8"/>
<rect x="100.00" y="611.30" width="12.90" height="51.20" fill="#f5911e"/>
<line x1="106.50" y1="611.30" x2="106.50" y2="603.30" stroke="#222" stroke-width="0.9"/>
<line x1="103.60" y1="603.30" x2="110.00" y2="603.30" stroke="#222" stroke-width="0.9"/>
<text x="56.93" y="669.20" font-size="6.7" fill="#222" stroke="#222" stroke-width="0.22" text-anchor="end" textLength="21.11" lengthAdjust="spacingAndGlyphs" transform="rotate(-90 56.93 669.20)">mELDR</text>
<text x="63.63" y="669.20" font-size="6.7" fill="#222" stroke="#222" stroke-width="0.22" text-anchor="end" textLength="13.24" lengthAdjust="spacingAndGlyphs" transform="rotate(-90 63.63 669.20)">+IgG</text>
<text x="81.53" y="669.20" font-size="6.7" fill="#222" stroke="#222" stroke-width="0.22" text-anchor="end" textLength="16.09" lengthAdjust="spacingAndGlyphs" transform="rotate(-90 81.53 669.20)">ELDR</text>
<text x="88.23" y="669.20" font-size="6.7" fill="#222" stroke="#222" stroke-width="0.22" text-anchor="end" textLength="13.24" lengthAdjust="spacingAndGlyphs" transform="rotate(-90 88.23 669.20)">+IgG</text>
<text x="106.13" y="669.20" font-size="6.7" fill="#222" stroke="#222" stroke-width="0.22" text-anchor="end" textLength="16.09" lengthAdjust="spacingAndGlyphs" transform="rotate(-90 106.13 669.20)">ELDR</text>
<text x="112.83" y="669.20" font-size="6.7" fill="#222" stroke="#222" stroke-width="0.22" text-anchor="end" textLength="35.36" lengthAdjust="spacingAndGlyphs" transform="rotate(-90 112.83 669.20)">+Centromere</text>
<text x="20.70" y="623.60" font-size="8.8" fill="#222" stroke="#222" stroke-width="0.36" text-anchor="middle" textLength="66.90" lengthAdjust="spacingAndGlyphs" transform="rotate(-90 20.70 623.60)">Coloc. ELDR+centromere</text>
<text x="32.00" y="623.20" font-size="8.8" fill="#222" stroke="#222" stroke-width="0.36" text-anchor="middle" textLength="19.60" lengthAdjust="spacingAndGlyphs" transform="rotate(-90 32.00 623.20)">per cell</text>
<text x="133.40" y="569.90" font-size="12.2" fill="#111" stroke="#111" stroke-width="0.45" font-weight="bold" textLength="5.20" lengthAdjust="spacingAndGlyphs">J</text>
<line x1="194.10" y1="577.00" x2="194.10" y2="663.20" stroke="#1a1a1a" stroke-width="1.1"/>
<line x1="191.70" y1="662.70" x2="194.10" y2="662.70" stroke="#1a1a1a" stroke-width="0.9"/>
<text x="188.70" y="664.90" font-size="6.4" fill="#222" stroke="#222" stroke-width="0.22" text-anchor="end">0</text>
<line x1="191.70" y1="635.07" x2="194.10" y2="635.07" stroke="#1a1a1a" stroke-width="0.9"/>
<text x="188.70" y="637.27" font-size="6.4" fill="#222" stroke="#222" stroke-width="0.22" text-anchor="end">50</text>
<line x1="191.70" y1="607.43" x2="194.10" y2="607.43" stroke="#1a1a1a" stroke-width="0.9"/>
<text x="188.70" y="609.63" font-size="6.4" fill="#222" stroke="#222" stroke-width="0.22" text-anchor="end">100</text>
<line x1="191.70" y1="579.80" x2="194.10" y2="579.80" stroke="#1a1a1a" stroke-width="0.9"/>
<text x="188.70" y="582.00" font-size="6.4" fill="#222" stroke="#222" stroke-width="0.22" text-anchor="end">150</text>
<line x1="194.10" y1="662.80" x2="263.30" y2="662.80" stroke="#222" stroke-width="0.9"/>
<line x1="208.00" y1="662.80" x2="208.00" y2="665.40" stroke="#222" stroke-width="0.8"/>
<line x1="229.00" y1="662.80" x2="229.00" y2="665.40" stroke="#222" stroke-width="0.8"/>
<line x1="249.80" y1="662.80" x2="249.80" y2="665.40" stroke="#222" stroke-width="0.8"/>
<rect x="201.90" y="608.10" width="12.80" height="54.60" fill="#d0183f" stroke="#9a1030" stroke-width="0.5"/>
<rect x="222.90" y="608.10" width="12.50" height="54.60" fill="#d0183f" stroke="#9a1030" stroke-width="0.5"/>
<rect x="243.70" y="631.90" width="12.50" height="30.80" fill="#d0183f" stroke="#9a1030" stroke-width="0.5"/>
<rect x="243.70" y="608.10" width="12.50" height="23.80" fill="#2aa9e2" stroke="#1a80b0" stroke-width="0.5"/>
<rect x="200.50" y="567.00" width="6.20" height="6.20" fill="#d0183f"/>
<rect x="200.50" y="586.60" width="6.20" height="6.20" fill="#2aa9e2"/>
<text x="209.40" y="572.50" font-size="6.4" fill="#222" stroke="#222" stroke-width="0.22">Cells w/o</text>
<text x="209.40" y="580.60" font-size="6.4" fill="#222" stroke="#222" stroke-width="0.22" textLength="49.80" lengthAdjust="spacingAndGlyphs">co-localized spots</text>
<text x="209.40" y="591.70" font-size="6.4" fill="#222" stroke="#222" stroke-width="0.22">Cells with</text>
<text x="209.40" y="598.90" font-size="6.4" fill="#222" stroke="#222" stroke-width="0.22" textLength="49.80" lengthAdjust="spacingAndGlyphs">co-localized spots</text>
<text x="207.63" y="668.60" font-size="6.7" fill="#222" stroke="#222" stroke-width="0.22" text-anchor="end" textLength="21.11" lengthAdjust="spacingAndGlyphs" transform="rotate(-90 207.63 668.60)">mELDR</text>
<text x="214.33" y="668.60" font-size="6.7" fill="#222" stroke="#222" stroke-width="0.22" text-anchor="end" textLength="13.24" lengthAdjust="spacingAndGlyphs" transform="rotate(-90 214.33 668.60)">+IgG</text>
<text x="228.63" y="668.60" font-size="6.7" fill="#222" stroke="#222" stroke-width="0.22" text-anchor="end" textLength="16.09" lengthAdjust="spacingAndGlyphs" transform="rotate(-90 228.63 668.60)">ELDR</text>
<text x="235.33" y="668.60" font-size="6.7" fill="#222" stroke="#222" stroke-width="0.22" text-anchor="end" textLength="13.24" lengthAdjust="spacingAndGlyphs" transform="rotate(-90 235.33 668.60)">+IgG</text>
<text x="249.43" y="668.60" font-size="6.7" fill="#222" stroke="#222" stroke-width="0.22" text-anchor="end" textLength="16.09" lengthAdjust="spacingAndGlyphs" transform="rotate(-90 249.43 668.60)">ELDR</text>
<text x="256.13" y="668.60" font-size="6.7" fill="#222" stroke="#222" stroke-width="0.22" text-anchor="end" textLength="28.32" lengthAdjust="spacingAndGlyphs" transform="rotate(-90 256.13 668.60)">+MLL-AF9</text>
<text x="149.80" y="619.50" font-size="8.6" fill="#222" stroke="#222" stroke-width="0.36" text-anchor="middle" textLength="39.80" lengthAdjust="spacingAndGlyphs" transform="rotate(-90 149.80 619.50)">% of cells with</text>
<text x="160.60" y="620.00" font-size="8.6" fill="#222" stroke="#222" stroke-width="0.36" text-anchor="middle" textLength="77.70" lengthAdjust="spacingAndGlyphs" transform="rotate(-90 160.60 620.00)">ELDR+MLL-AF9 co-localized</text>
<text x="171.30" y="619.00" font-size="8.6" fill="#222" stroke="#222" stroke-width="0.36" text-anchor="middle" textLength="42.30" lengthAdjust="spacingAndGlyphs" transform="rotate(-90 171.30 619.00)">with centromere</text>
<text x="280.00" y="570.40" font-size="12.2" fill="#111" stroke="#111" stroke-width="0.45" font-weight="bold">K</text>
<line x1="322.20" y1="582.20" x2="322.20" y2="662.80" stroke="#1a1a1a" stroke-width="1.1"/>
<line x1="319.30" y1="662.30" x2="322.20" y2="662.30" stroke="#1a1a1a" stroke-width="0.9"/>
<text x="316.00" y="664.50" font-size="6.4" fill="#222" stroke="#222" stroke-width="0.22" text-anchor="end">0</text>
<line x1="319.30" y1="636.30" x2="322.20" y2="636.30" stroke="#1a1a1a" stroke-width="0.9"/>
<text x="316.00" y="638.50" font-size="6.4" fill="#222" stroke="#222" stroke-width="0.22" text-anchor="end">1</text>
<line x1="319.30" y1="610.30" x2="322.20" y2="610.30" stroke="#1a1a1a" stroke-width="0.9"/>
<text x="316.00" y="612.50" font-size="6.4" fill="#222" stroke="#222" stroke-width="0.22" text-anchor="end">2</text>
<line x1="319.30" y1="584.30" x2="322.20" y2="584.30" stroke="#1a1a1a" stroke-width="0.9"/>
<text x="316.00" y="586.50" font-size="6.4" fill="#222" stroke="#222" stroke-width="0.22" text-anchor="end">3</text>
<line x1="322.30" y1="662.40" x2="383.50" y2="662.40" stroke="#222" stroke-width="0.9"/>
<line x1="335.50" y1="662.40" x2="335.50" y2="665.00" stroke="#222" stroke-width="0.8"/>
<line x1="354.60" y1="662.40" x2="354.60" y2="665.00" stroke="#222" stroke-width="0.8"/>
<line x1="373.80" y1="662.40" x2="373.80" y2="665.00" stroke="#222" stroke-width="0.8"/>
<rect x="368.60" y="606.00" width="11.40" height="56.30" fill="#5b2a82" stroke="#3a1262" stroke-width="0.5"/>
<line x1="374.30" y1="605.80" x2="374.30" y2="595.40" stroke="#222" stroke-width="0.9"/>
<line x1="371.50" y1="595.40" x2="377.70" y2="595.40" stroke="#222" stroke-width="0.9"/>
<text x="335.13" y="669.20" font-size="6.7" fill="#222" stroke="#222" stroke-width="0.22" text-anchor="end" textLength="21.11" lengthAdjust="spacingAndGlyphs" transform="rotate(-90 335.13 669.20)">mELDR</text>
<text x="341.83" y="669.20" font-size="6.7" fill="#222" stroke="#222" stroke-width="0.22" text-anchor="end" textLength="13.24" lengthAdjust="spacingAndGlyphs" transform="rotate(-90 341.83 669.20)">+IgG</text>
<text x="354.23" y="669.20" font-size="6.7" fill="#222" stroke="#222" stroke-width="0.22" text-anchor="end" textLength="16.09" lengthAdjust="spacingAndGlyphs" transform="rotate(-90 354.23 669.20)">ELDR</text>
<text x="360.93" y="669.20" font-size="6.7" fill="#222" stroke="#222" stroke-width="0.22" text-anchor="end" textLength="13.24" lengthAdjust="spacingAndGlyphs" transform="rotate(-90 360.93 669.20)">+IgG</text>
<text x="373.43" y="669.20" font-size="6.7" fill="#222" stroke="#222" stroke-width="0.22" text-anchor="end" textLength="16.09" lengthAdjust="spacingAndGlyphs" transform="rotate(-90 373.43 669.20)">ELDR</text>
<text x="380.13" y="669.20" font-size="6.7" fill="#222" stroke="#222" stroke-width="0.22" text-anchor="end" textLength="28.32" lengthAdjust="spacingAndGlyphs" transform="rotate(-90 380.13 669.20)">+MLL-AF9</text>
<text x="296.80" y="622.00" font-size="8.4" fill="#222" stroke="#222" stroke-width="0.36" text-anchor="middle" textLength="65.90" lengthAdjust="spacingAndGlyphs" transform="rotate(-90 296.80 622.00)">ELDR/MLL-AF9 complex</text>
<text x="306.80" y="622.20" font-size="8.4" fill="#222" stroke="#222" stroke-width="0.36" text-anchor="middle" textLength="65.60" lengthAdjust="spacingAndGlyphs" transform="rotate(-90 306.80 622.20)">with centromere per cell</text>
<text x="397.80" y="570.00" font-size="12.2" fill="#111" stroke="#111" stroke-width="0.45" font-weight="bold" textLength="5.60" lengthAdjust="spacingAndGlyphs">L</text>
<text x="474.10" y="570.00" font-size="8.0" fill="#222" stroke="#222" stroke-width="0.22" text-anchor="middle" textLength="48.60" lengthAdjust="spacingAndGlyphs">D5Z2 (HOR)</text>
<text x="474.60" y="581.30" font-size="8.0" fill="#222" stroke="#222" stroke-width="0.22" text-anchor="middle" textLength="33.20" lengthAdjust="spacingAndGlyphs">on Chr 5</text>
<line x1="445.50" y1="590.60" x2="445.50" y2="662.50" stroke="#1a1a1a" stroke-width="1.1"/>
<line x1="443.10" y1="662.00" x2="445.50" y2="662.00" stroke="#1a1a1a" stroke-width="0.9"/>
<text x="439.50" y="664.20" font-size="6.4" fill="#222" stroke="#222" stroke-width="0.22" text-anchor="end">0</text>
<line x1="443.10" y1="644.75" x2="445.50" y2="644.75" stroke="#1a1a1a" stroke-width="0.9"/>
<text x="439.50" y="646.95" font-size="6.4" fill="#222" stroke="#222" stroke-width="0.22" text-anchor="end">0.2</text>
<line x1="443.10" y1="627.50" x2="445.50" y2="627.50" stroke="#1a1a1a" stroke-width="0.9"/>
<text x="439.50" y="629.70" font-size="6.4" fill="#222" stroke="#222" stroke-width="0.22" text-anchor="end">0.4</text>
<line x1="443.10" y1="610.25" x2="445.50" y2="610.25" stroke="#1a1a1a" stroke-width="0.9"/>
<text x="439.50" y="612.45" font-size="6.4" fill="#222" stroke="#222" stroke-width="0.22" text-anchor="end">0.6</text>
<line x1="443.10" y1="593.00" x2="445.50" y2="593.00" stroke="#1a1a1a" stroke-width="0.9"/>
<text x="439.50" y="595.20" font-size="6.4" fill="#222" stroke="#222" stroke-width="0.22" text-anchor="end">0.8</text>
<line x1="445.50" y1="662.10" x2="503.20" y2="662.10" stroke="#222" stroke-width="0.9"/>
<line x1="454.50" y1="662.10" x2="454.50" y2="664.70" stroke="#222" stroke-width="0.8"/>
<line x1="473.70" y1="662.10" x2="473.70" y2="664.70" stroke="#222" stroke-width="0.8"/>
<line x1="493.60" y1="662.10" x2="493.60" y2="664.70" stroke="#222" stroke-width="0.8"/>
<rect x="447.90" y="602.40" width="13.20" height="59.60" fill="#15578a" stroke="#0f3f66" stroke-width="0.6"/>
<line x1="454.50" y1="602.40" x2="454.50" y2="596.30" stroke="#2a82c8" stroke-width="1.0"/>
<line x1="451.50" y1="596.30" x2="458.00" y2="596.30" stroke="#2a82c8" stroke-width="1.0"/>
<rect x="467.10" y="660.30" width="13.20" height="1.70" fill="#c8c8c8"/>
<line x1="473.70" y1="660.30" x2="473.70" y2="659.00" stroke="#aaa" stroke-width="0.8"/>
<line x1="471.50" y1="659.00" x2="476.00" y2="659.00" stroke="#aaa" stroke-width="0.8"/>
<rect x="487.50" y="659.60" width="12.10" height="2.40" fill="#c8203f"/>
<line x1="493.60" y1="659.60" x2="493.60" y2="658.60" stroke="#c8203f" stroke-width="0.8"/>
<line x1="491.40" y1="658.60" x2="495.80" y2="658.60" stroke="#c8203f" stroke-width="0.8"/>
<path d="M453.9,593.2 L453.9,591.0 L484.4,591.0 L484.4,647.5" fill="none" stroke="#333" stroke-width="0.8"/>
<text x="469.00" y="590.20" font-size="6.5" fill="#222" stroke="#222" stroke-width="0.22" text-anchor="middle">****</text>
<path d="M473.8,654.8 L473.8,652.4 L494.0,652.4 L494.0,654.8" fill="none" stroke="#333" stroke-width="0.8"/>
<text x="457.28" y="670.40" font-size="6.7" fill="#222" stroke="#222" stroke-width="0.22" text-anchor="end" textLength="11.40" lengthAdjust="spacingAndGlyphs" transform="rotate(-90 457.28 670.40)">EV1</text>
<text x="476.48" y="670.40" font-size="6.7" fill="#222" stroke="#222" stroke-width="0.22" text-anchor="end" textLength="25.80" lengthAdjust="spacingAndGlyphs" transform="rotate(-90 476.48 670.40)">ELDR-C1</text>
<text x="495.78" y="670.40" font-size="6.7" fill="#222" stroke="#222" stroke-width="0.22" text-anchor="end" textLength="25.80" lengthAdjust="spacingAndGlyphs" transform="rotate(-90 495.78 670.40)">ELDR-C3</text>
<text x="415.00" y="627.70" font-size="8.4" fill="#222" stroke="#222" stroke-width="0.36" text-anchor="middle" textLength="63.70" lengthAdjust="spacingAndGlyphs" transform="rotate(-90 415.00 627.70)">D5Z2 expression relative</text>
<text x="424.60" y="627.70" font-size="8.4" fill="#222" stroke="#222" stroke-width="0.36" text-anchor="middle" textLength="24.50" lengthAdjust="spacingAndGlyphs" transform="rotate(-90 424.60 627.70)">to GAPDH</text>
<rect x="0.55" y="0.55" width="518.9" height="711.9" fill="none" stroke="#5a5a5a" stroke-width="1.3"/>
</svg>
</body></html>
